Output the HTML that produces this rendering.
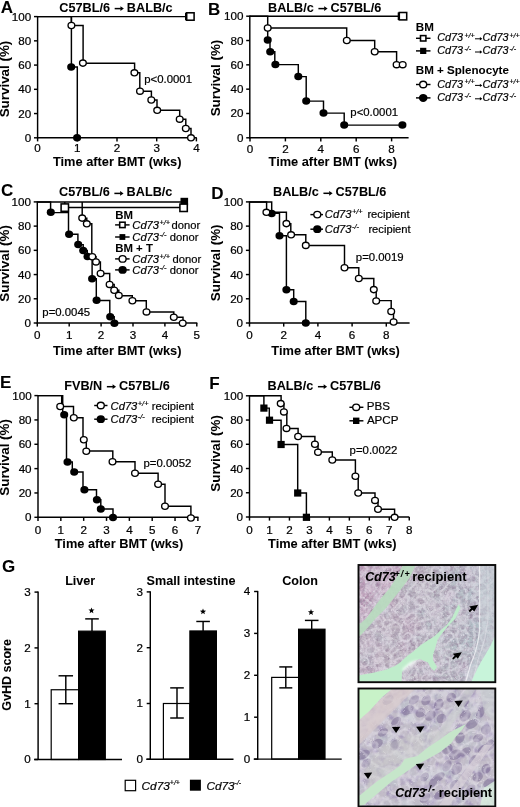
<!DOCTYPE html>
<html><head><meta charset="utf-8"><style>
html,body{margin:0;padding:0;background:#fff;}
svg{display:block;filter:blur(0.3px);}
text{font-family:"Liberation Sans", sans-serif;fill:#000;stroke:#000;stroke-width:0.2px;}
text[font-weight="bold"]{stroke-width:0.05px;}
</style></head><body>
<svg width="520" height="807" viewBox="0 0 520 807">
<rect width="520" height="807" fill="#fff"/>
<text x="0.7" y="12.8" font-size="17" font-weight="bold" font-style="normal" text-anchor="start" >A</text>
<text transform="translate(59.3,11.6) scale(1.04,1)" x="0" y="0" font-size="12.2" font-weight="bold" font-style="normal" text-anchor="start" >C57BL/6</text>
<line x1="114.67" y1="8.6" x2="120.91" y2="8.6" stroke="#000" stroke-width="1.5"/>
<path d="M120.41,6.2 L123.87,8.6 L120.41,11 z" fill="#000"/>
<text transform="translate(126.87,11.6) scale(1.04,1)" x="0" y="0" font-size="12.2" font-weight="bold" font-style="normal" text-anchor="start" >BALB/c</text>
<line x1="37.6" y1="16" x2="37.6" y2="138.4" stroke="#000" stroke-width="1.45"/>
<line x1="34" y1="137.8" x2="37.6" y2="137.8" stroke="#000" stroke-width="1.45"/>
<text transform="translate(31.2,141.8) scale(1.12,1)" x="0" y="0" font-size="10.4" font-weight="normal" font-style="normal" text-anchor="end" >0</text>
<line x1="34" y1="113.56" x2="37.6" y2="113.56" stroke="#000" stroke-width="1.45"/>
<text transform="translate(31.2,117.56) scale(1.12,1)" x="0" y="0" font-size="10.4" font-weight="normal" font-style="normal" text-anchor="end" >20</text>
<line x1="34" y1="89.32" x2="37.6" y2="89.32" stroke="#000" stroke-width="1.45"/>
<text transform="translate(31.2,93.32) scale(1.12,1)" x="0" y="0" font-size="10.4" font-weight="normal" font-style="normal" text-anchor="end" >40</text>
<line x1="34" y1="65.08" x2="37.6" y2="65.08" stroke="#000" stroke-width="1.45"/>
<text transform="translate(31.2,69.08) scale(1.12,1)" x="0" y="0" font-size="10.4" font-weight="normal" font-style="normal" text-anchor="end" >60</text>
<line x1="34" y1="40.84" x2="37.6" y2="40.84" stroke="#000" stroke-width="1.45"/>
<text transform="translate(31.2,44.84) scale(1.12,1)" x="0" y="0" font-size="10.4" font-weight="normal" font-style="normal" text-anchor="end" >80</text>
<line x1="34" y1="16.6" x2="37.6" y2="16.6" stroke="#000" stroke-width="1.45"/>
<text transform="translate(31.2,20.6) scale(1.12,1)" x="0" y="0" font-size="10.4" font-weight="normal" font-style="normal" text-anchor="end" >100</text>
<line x1="37" y1="137.8" x2="196.8" y2="137.8" stroke="#000" stroke-width="1.45"/>
<line x1="37.6" y1="137.8" x2="37.6" y2="141.4" stroke="#000" stroke-width="1.45"/>
<line x1="77.3" y1="137.8" x2="77.3" y2="141.4" stroke="#000" stroke-width="1.45"/>
<line x1="117" y1="137.8" x2="117" y2="141.4" stroke="#000" stroke-width="1.45"/>
<line x1="156.7" y1="137.8" x2="156.7" y2="141.4" stroke="#000" stroke-width="1.45"/>
<line x1="196.4" y1="137.8" x2="196.4" y2="141.4" stroke="#000" stroke-width="1.45"/>
<text transform="translate(37.6,151.7) scale(1.12,1)" x="0" y="0" font-size="10.4" font-weight="normal" font-style="normal" text-anchor="middle" >0</text>
<text transform="translate(77.3,151.7) scale(1.12,1)" x="0" y="0" font-size="10.4" font-weight="normal" font-style="normal" text-anchor="middle" >1</text>
<text transform="translate(117,151.7) scale(1.12,1)" x="0" y="0" font-size="10.4" font-weight="normal" font-style="normal" text-anchor="middle" >2</text>
<text transform="translate(156.7,151.7) scale(1.12,1)" x="0" y="0" font-size="10.4" font-weight="normal" font-style="normal" text-anchor="middle" >3</text>
<text transform="translate(196.4,151.7) scale(1.12,1)" x="0" y="0" font-size="10.4" font-weight="normal" font-style="normal" text-anchor="middle" >4</text>
<text x="0" y="0" font-size="13.4" font-weight="bold" text-anchor="middle" transform="translate(8.8,79) rotate(-90)">Survival (%)</text>
<text x="117.2" y="165.7" font-size="12.8" font-weight="bold" font-style="normal" text-anchor="middle" >Time after BMT (wks)</text>
<polyline points="37.6,16.6 190,16.6" fill="none" stroke="#000" stroke-width="1.45" stroke-linejoin="miter"/>
<polyline points="37.6,16.6 71.4,16.6 71.4,67 77.3,67 77.3,137.8" fill="none" stroke="#000" stroke-width="1.45" stroke-linejoin="miter"/>
<polyline points="71.4,16.6 71.4,25.5 83.1,25.5 83.1,63.3 134.6,63.3 134.6,72.8 139.8,72.8 139.8,91.2 151.4,91.2 151.4,100 157,100 157,110.3 179.7,110.3 179.7,119.2 185.8,119.2 185.8,128.5 191,128.5 191,137.8" fill="none" stroke="#000" stroke-width="1.45" stroke-linejoin="miter"/>
<ellipse cx="71.2" cy="67" rx="4.03" ry="3.77" fill="#000"/>
<ellipse cx="77.1" cy="137.7" rx="4.03" ry="3.77" fill="#000"/>
<ellipse cx="71.4" cy="25.5" rx="3.35" ry="3.1" fill="#fff" stroke="#000" stroke-width="1.35"/>
<ellipse cx="82.9" cy="63.1" rx="3.35" ry="3.1" fill="#fff" stroke="#000" stroke-width="1.35"/>
<ellipse cx="134.4" cy="72.8" rx="3.35" ry="3.1" fill="#fff" stroke="#000" stroke-width="1.35"/>
<ellipse cx="140" cy="91.2" rx="3.35" ry="3.1" fill="#fff" stroke="#000" stroke-width="1.35"/>
<ellipse cx="151.3" cy="100" rx="3.35" ry="3.1" fill="#fff" stroke="#000" stroke-width="1.35"/>
<ellipse cx="157.2" cy="110.3" rx="3.35" ry="3.1" fill="#fff" stroke="#000" stroke-width="1.35"/>
<ellipse cx="179.7" cy="119.2" rx="3.35" ry="3.1" fill="#fff" stroke="#000" stroke-width="1.35"/>
<ellipse cx="185.8" cy="128.5" rx="3.35" ry="3.1" fill="#fff" stroke="#000" stroke-width="1.35"/>
<ellipse cx="191" cy="137.8" rx="3.35" ry="3.1" fill="#fff" stroke="#000" stroke-width="1.35"/>
<rect x="185" y="12.7" width="7.6" height="7.6" fill="#000"/>
<rect x="186.7" y="12.8" width="7.4" height="7.4" fill="#fff" stroke="#000" stroke-width="1.55"/>
<text transform="translate(144.2,83.2) scale(1.075,1)" x="0" y="0" font-size="10.6" font-weight="normal" font-style="normal" text-anchor="start" >p&lt;0.0001</text>
<text x="208" y="15" font-size="17" font-weight="bold" font-style="normal" text-anchor="start" >B</text>
<text transform="translate(268,11.6) scale(1.04,1)" x="0" y="0" font-size="12.2" font-weight="bold" font-style="normal" text-anchor="start" >BALB/c</text>
<line x1="318.42" y1="8.6" x2="324.66" y2="8.6" stroke="#000" stroke-width="1.5"/>
<path d="M324.16,6.2 L327.62,8.6 L324.16,11 z" fill="#000"/>
<text transform="translate(330.62,11.6) scale(1.04,1)" x="0" y="0" font-size="12.2" font-weight="bold" font-style="normal" text-anchor="start" >C57BL/6</text>
<line x1="249.8" y1="15.6" x2="249.8" y2="138.4" stroke="#000" stroke-width="1.45"/>
<line x1="246.2" y1="137.8" x2="249.8" y2="137.8" stroke="#000" stroke-width="1.45"/>
<text transform="translate(243.4,141.8) scale(1.12,1)" x="0" y="0" font-size="10.4" font-weight="normal" font-style="normal" text-anchor="end" >0</text>
<line x1="246.2" y1="113.48" x2="249.8" y2="113.48" stroke="#000" stroke-width="1.45"/>
<text transform="translate(243.4,117.48) scale(1.12,1)" x="0" y="0" font-size="10.4" font-weight="normal" font-style="normal" text-anchor="end" >20</text>
<line x1="246.2" y1="89.16" x2="249.8" y2="89.16" stroke="#000" stroke-width="1.45"/>
<text transform="translate(243.4,93.16) scale(1.12,1)" x="0" y="0" font-size="10.4" font-weight="normal" font-style="normal" text-anchor="end" >40</text>
<line x1="246.2" y1="64.84" x2="249.8" y2="64.84" stroke="#000" stroke-width="1.45"/>
<text transform="translate(243.4,68.84) scale(1.12,1)" x="0" y="0" font-size="10.4" font-weight="normal" font-style="normal" text-anchor="end" >60</text>
<line x1="246.2" y1="40.52" x2="249.8" y2="40.52" stroke="#000" stroke-width="1.45"/>
<text transform="translate(243.4,44.52) scale(1.12,1)" x="0" y="0" font-size="10.4" font-weight="normal" font-style="normal" text-anchor="end" >80</text>
<line x1="246.2" y1="16.2" x2="249.8" y2="16.2" stroke="#000" stroke-width="1.45"/>
<text transform="translate(243.4,20.2) scale(1.12,1)" x="0" y="0" font-size="10.4" font-weight="normal" font-style="normal" text-anchor="end" >100</text>
<line x1="249.2" y1="137.8" x2="408.6" y2="137.8" stroke="#000" stroke-width="1.45"/>
<line x1="250" y1="137.8" x2="250" y2="141.4" stroke="#000" stroke-width="1.45"/>
<line x1="285.4" y1="137.8" x2="285.4" y2="141.4" stroke="#000" stroke-width="1.45"/>
<line x1="320.8" y1="137.8" x2="320.8" y2="141.4" stroke="#000" stroke-width="1.45"/>
<line x1="356.2" y1="137.8" x2="356.2" y2="141.4" stroke="#000" stroke-width="1.45"/>
<line x1="391.6" y1="137.8" x2="391.6" y2="141.4" stroke="#000" stroke-width="1.45"/>
<text transform="translate(250,152.6) scale(1.12,1)" x="0" y="0" font-size="10.4" font-weight="normal" font-style="normal" text-anchor="middle" >0</text>
<text transform="translate(285.4,152.6) scale(1.12,1)" x="0" y="0" font-size="10.4" font-weight="normal" font-style="normal" text-anchor="middle" >2</text>
<text transform="translate(320.8,152.6) scale(1.12,1)" x="0" y="0" font-size="10.4" font-weight="normal" font-style="normal" text-anchor="middle" >4</text>
<text transform="translate(356.2,152.6) scale(1.12,1)" x="0" y="0" font-size="10.4" font-weight="normal" font-style="normal" text-anchor="middle" >6</text>
<text transform="translate(391.6,152.6) scale(1.12,1)" x="0" y="0" font-size="10.4" font-weight="normal" font-style="normal" text-anchor="middle" >8</text>
<text x="0" y="0" font-size="13.4" font-weight="bold" text-anchor="middle" transform="translate(220.4,78) rotate(-90)">Survival (%)</text>
<text x="332.8" y="165.7" font-size="12.8" font-weight="bold" font-style="normal" text-anchor="middle" >Time after BMT (wks)</text>
<polyline points="249.8,16.2 403,16.2" fill="none" stroke="#000" stroke-width="1.45" stroke-linejoin="miter"/>
<polyline points="249.8,16.2 267.7,16.2 267.7,28 346.7,28 346.7,40.5 374.7,40.5 374.7,51.7 396.6,51.7 396.6,64.7 402.7,64.7" fill="none" stroke="#000" stroke-width="1.45" stroke-linejoin="miter"/>
<polyline points="267.7,28 267.7,40 270,40 270,51.8 274.8,51.8 274.8,64.6 298.3,64.6 298.3,76.6 306.2,76.6 306.2,101.1 323.5,101.1 323.5,113.1 344.2,113.1 344.2,125.1 402.4,125.1" fill="none" stroke="#000" stroke-width="1.45" stroke-linejoin="miter"/>
<ellipse cx="267.7" cy="40" rx="4.03" ry="3.77" fill="#000"/>
<ellipse cx="270.2" cy="51.8" rx="4.03" ry="3.77" fill="#000"/>
<ellipse cx="275.4" cy="64.6" rx="4.03" ry="3.77" fill="#000"/>
<ellipse cx="298.3" cy="76.6" rx="4.03" ry="3.77" fill="#000"/>
<ellipse cx="306.2" cy="101.1" rx="4.03" ry="3.77" fill="#000"/>
<ellipse cx="323.5" cy="113.1" rx="4.03" ry="3.77" fill="#000"/>
<ellipse cx="344.2" cy="125.1" rx="4.03" ry="3.77" fill="#000"/>
<ellipse cx="402.4" cy="125.1" rx="4.03" ry="3.77" fill="#000"/>
<ellipse cx="267.7" cy="28" rx="3.35" ry="3.1" fill="#fff" stroke="#000" stroke-width="1.35"/>
<ellipse cx="346.8" cy="40.5" rx="3.35" ry="3.1" fill="#fff" stroke="#000" stroke-width="1.35"/>
<ellipse cx="374.7" cy="51.7" rx="3.35" ry="3.1" fill="#fff" stroke="#000" stroke-width="1.35"/>
<ellipse cx="396.6" cy="64.7" rx="3.35" ry="3.1" fill="#fff" stroke="#000" stroke-width="1.35"/>
<ellipse cx="402.7" cy="64.7" rx="3.35" ry="3.1" fill="#fff" stroke="#000" stroke-width="1.35"/>
<rect x="397.7" y="12.4" width="7.6" height="7.6" fill="#000"/>
<rect x="399.3" y="12.5" width="7.4" height="7.4" fill="#fff" stroke="#000" stroke-width="1.55"/>
<text transform="translate(350.3,116.2) scale(1.075,1)" x="0" y="0" font-size="10.6" font-weight="normal" font-style="normal" text-anchor="start" >p&lt;0.0001</text>
<text x="415.8" y="30.9" font-size="11.6" font-weight="bold" font-style="normal" text-anchor="start" >BM</text>
<line x1="416" y1="38.3" x2="430.5" y2="38.3" stroke="#000" stroke-width="1.45"/>
<rect x="420.5" y="35.6" width="5.4" height="5.4" fill="#fff" stroke="#000" stroke-width="1.55"/>
<line x1="416" y1="50.9" x2="430.5" y2="50.9" stroke="#000" stroke-width="1.45"/>
<rect x="420.1" y="47.8" width="6.2" height="6.2" fill="#000"/>
<text x="415.8" y="73.6" font-size="11.6" font-weight="bold" font-style="normal" text-anchor="start" >BM + Splenocyte</text>
<line x1="416" y1="84.5" x2="430.5" y2="84.5" stroke="#000" stroke-width="1.45"/>
<ellipse cx="423.2" cy="84.5" rx="3.5" ry="3.24" fill="#fff" stroke="#000" stroke-width="1.35"/>
<line x1="416" y1="97.9" x2="430.5" y2="97.9" stroke="#000" stroke-width="1.45"/>
<ellipse cx="423.2" cy="97.9" rx="4.28" ry="4.01" fill="#000"/>
<text x="437.3" y="41.2" font-size="10.8" font-style="italic">Cd73</text>
<text x="464.4" y="37.6" font-size="7.2" font-style="italic">+/+</text>
<line x1="475" y1="38.8" x2="480.35" y2="38.8" stroke="#000" stroke-width="1.0"/>
<path d="M479.85,37.1 L482.3,38.8 L479.85,40.5 z" fill="#000"/>
<text x="482.6" y="41.2" font-size="10.8" font-style="italic">Cd73</text>
<text x="509.4" y="37.6" font-size="7.2" font-style="italic">+/+</text>
<text x="437.3" y="54.4" font-size="10.8" font-style="italic">Cd73</text>
<text x="464.4" y="50.8" font-size="7.2" font-style="italic">-/-</text>
<line x1="475" y1="52" x2="480.35" y2="52" stroke="#000" stroke-width="1.0"/>
<path d="M479.85,50.3 L482.3,52 L479.85,53.7 z" fill="#000"/>
<text x="482.6" y="54.4" font-size="10.8" font-style="italic">Cd73</text>
<text x="509.4" y="50.8" font-size="7.2" font-style="italic">-/-</text>
<text x="437.3" y="87.8" font-size="10.8" font-style="italic">Cd73</text>
<text x="464.4" y="84.2" font-size="7.2" font-style="italic">+/+</text>
<line x1="475" y1="85.4" x2="480.35" y2="85.4" stroke="#000" stroke-width="1.0"/>
<path d="M479.85,83.7 L482.3,85.4 L479.85,87.1 z" fill="#000"/>
<text x="482.6" y="87.8" font-size="10.8" font-style="italic">Cd73</text>
<text x="509.4" y="84.2" font-size="7.2" font-style="italic">+/+</text>
<text x="437.3" y="101.2" font-size="10.8" font-style="italic">Cd73</text>
<text x="464.4" y="97.6" font-size="7.2" font-style="italic">-/-</text>
<line x1="475" y1="98.8" x2="480.35" y2="98.8" stroke="#000" stroke-width="1.0"/>
<path d="M479.85,97.1 L482.3,98.8 L479.85,100.5 z" fill="#000"/>
<text x="482.6" y="101.2" font-size="10.8" font-style="italic">Cd73</text>
<text x="509.4" y="97.6" font-size="7.2" font-style="italic">-/-</text>
<text x="0.9" y="196" font-size="17" font-weight="bold" font-style="normal" text-anchor="start" >C</text>
<text transform="translate(59,196.4) scale(1.04,1)" x="0" y="0" font-size="12.2" font-weight="bold" font-style="normal" text-anchor="start" >C57BL/6</text>
<line x1="114.37" y1="193.4" x2="120.61" y2="193.4" stroke="#000" stroke-width="1.5"/>
<path d="M120.11,191 L123.57,193.4 L120.11,195.8 z" fill="#000"/>
<text transform="translate(126.57,196.4) scale(1.04,1)" x="0" y="0" font-size="12.2" font-weight="bold" font-style="normal" text-anchor="start" >BALB/c</text>
<line x1="37.3" y1="201.3" x2="37.3" y2="323.6" stroke="#000" stroke-width="1.45"/>
<line x1="33.7" y1="323" x2="37.3" y2="323" stroke="#000" stroke-width="1.45"/>
<text transform="translate(30.9,327) scale(1.12,1)" x="0" y="0" font-size="10.4" font-weight="normal" font-style="normal" text-anchor="end" >0</text>
<line x1="33.7" y1="298.78" x2="37.3" y2="298.78" stroke="#000" stroke-width="1.45"/>
<text transform="translate(30.9,302.78) scale(1.12,1)" x="0" y="0" font-size="10.4" font-weight="normal" font-style="normal" text-anchor="end" >20</text>
<line x1="33.7" y1="274.56" x2="37.3" y2="274.56" stroke="#000" stroke-width="1.45"/>
<text transform="translate(30.9,278.56) scale(1.12,1)" x="0" y="0" font-size="10.4" font-weight="normal" font-style="normal" text-anchor="end" >40</text>
<line x1="33.7" y1="250.34" x2="37.3" y2="250.34" stroke="#000" stroke-width="1.45"/>
<text transform="translate(30.9,254.34) scale(1.12,1)" x="0" y="0" font-size="10.4" font-weight="normal" font-style="normal" text-anchor="end" >60</text>
<line x1="33.7" y1="226.12" x2="37.3" y2="226.12" stroke="#000" stroke-width="1.45"/>
<text transform="translate(30.9,230.12) scale(1.12,1)" x="0" y="0" font-size="10.4" font-weight="normal" font-style="normal" text-anchor="end" >80</text>
<line x1="33.7" y1="201.9" x2="37.3" y2="201.9" stroke="#000" stroke-width="1.45"/>
<text transform="translate(30.9,205.9) scale(1.12,1)" x="0" y="0" font-size="10.4" font-weight="normal" font-style="normal" text-anchor="end" >100</text>
<line x1="36.7" y1="323" x2="197.3" y2="323" stroke="#000" stroke-width="1.45"/>
<line x1="37.3" y1="323" x2="37.3" y2="326.6" stroke="#000" stroke-width="1.45"/>
<line x1="69.2" y1="323" x2="69.2" y2="326.6" stroke="#000" stroke-width="1.45"/>
<line x1="101.1" y1="323" x2="101.1" y2="326.6" stroke="#000" stroke-width="1.45"/>
<line x1="133" y1="323" x2="133" y2="326.6" stroke="#000" stroke-width="1.45"/>
<line x1="164.9" y1="323" x2="164.9" y2="326.6" stroke="#000" stroke-width="1.45"/>
<line x1="196.8" y1="323" x2="196.8" y2="326.6" stroke="#000" stroke-width="1.45"/>
<text transform="translate(37.3,339.1) scale(1.12,1)" x="0" y="0" font-size="10.4" font-weight="normal" font-style="normal" text-anchor="middle" >0</text>
<text transform="translate(69.2,339.1) scale(1.12,1)" x="0" y="0" font-size="10.4" font-weight="normal" font-style="normal" text-anchor="middle" >1</text>
<text transform="translate(101.1,339.1) scale(1.12,1)" x="0" y="0" font-size="10.4" font-weight="normal" font-style="normal" text-anchor="middle" >2</text>
<text transform="translate(133,339.1) scale(1.12,1)" x="0" y="0" font-size="10.4" font-weight="normal" font-style="normal" text-anchor="middle" >3</text>
<text transform="translate(164.9,339.1) scale(1.12,1)" x="0" y="0" font-size="10.4" font-weight="normal" font-style="normal" text-anchor="middle" >4</text>
<text transform="translate(196.8,339.1) scale(1.12,1)" x="0" y="0" font-size="10.4" font-weight="normal" font-style="normal" text-anchor="middle" >5</text>
<text x="0" y="0" font-size="13.4" font-weight="bold" text-anchor="middle" transform="translate(8.8,263.4) rotate(-90)">Survival (%)</text>
<text x="117.2" y="355.2" font-size="12.8" font-weight="bold" font-style="normal" text-anchor="middle" >Time after BMT (wks)</text>
<polyline points="37.3,201.9 186,201.9" fill="none" stroke="#000" stroke-width="1.45" stroke-linejoin="miter"/>
<polyline points="64.8,201.9 64.8,207.4 183.6,207.4" fill="none" stroke="#000" stroke-width="1.45" stroke-linejoin="miter"/>
<polyline points="37.3,201.9 50.6,201.9 50.6,212.6 68.5,212.6 68.5,234.2 77.9,234.2 77.9,244.6 83.2,244.6 83.2,250.4 87.3,250.4 87.3,256.2 92.1,256.2 92.1,278.7 96.3,278.7 96.3,300.4 109.8,300.4 109.8,316.7 114.2,316.7 114.2,323" fill="none" stroke="#000" stroke-width="1.45" stroke-linejoin="miter"/>
<polyline points="82.2,201.9 82.2,218.1 86.8,218.1 86.8,223.8 91.8,223.8 91.8,256.7 96,256.7 96,261.9 100.4,261.9 100.4,273.5 109.7,273.5 109.7,284.4 114.2,284.4 114.2,290.2 118.8,290.2 118.8,295.7 132.3,295.7 132.3,300.8 146.3,300.8 146.3,312 173.8,312 173.8,317.3 183,317.3 183,323" fill="none" stroke="#000" stroke-width="1.45" stroke-linejoin="miter"/>
<ellipse cx="50.8" cy="212.3" rx="4.03" ry="3.77" fill="#000"/>
<ellipse cx="69.1" cy="234.2" rx="4.03" ry="3.77" fill="#000"/>
<ellipse cx="78.2" cy="244.6" rx="4.03" ry="3.77" fill="#000"/>
<ellipse cx="83.2" cy="250.6" rx="4.03" ry="3.77" fill="#000"/>
<ellipse cx="87.5" cy="256.4" rx="4.03" ry="3.77" fill="#000"/>
<ellipse cx="92.1" cy="278.7" rx="4.03" ry="3.77" fill="#000"/>
<ellipse cx="96.6" cy="300.2" rx="4.03" ry="3.77" fill="#000"/>
<ellipse cx="110.2" cy="316.7" rx="4.03" ry="3.77" fill="#000"/>
<ellipse cx="114.4" cy="323.3" rx="4.03" ry="3.77" fill="#000"/>
<ellipse cx="82.2" cy="218.1" rx="3.35" ry="3.1" fill="#fff" stroke="#000" stroke-width="1.35"/>
<ellipse cx="86.8" cy="223.8" rx="3.35" ry="3.1" fill="#fff" stroke="#000" stroke-width="1.35"/>
<ellipse cx="92.3" cy="256.7" rx="3.35" ry="3.1" fill="#fff" stroke="#000" stroke-width="1.35"/>
<ellipse cx="96" cy="261.9" rx="3.35" ry="3.1" fill="#fff" stroke="#000" stroke-width="1.35"/>
<ellipse cx="100.6" cy="273.5" rx="3.35" ry="3.1" fill="#fff" stroke="#000" stroke-width="1.35"/>
<ellipse cx="109.6" cy="284.4" rx="3.35" ry="3.1" fill="#fff" stroke="#000" stroke-width="1.35"/>
<ellipse cx="114.2" cy="290.2" rx="3.35" ry="3.1" fill="#fff" stroke="#000" stroke-width="1.35"/>
<ellipse cx="118.8" cy="295.4" rx="3.35" ry="3.1" fill="#fff" stroke="#000" stroke-width="1.35"/>
<ellipse cx="132.4" cy="300.8" rx="3.35" ry="3.1" fill="#fff" stroke="#000" stroke-width="1.35"/>
<ellipse cx="146.5" cy="311.9" rx="3.35" ry="3.1" fill="#fff" stroke="#000" stroke-width="1.35"/>
<ellipse cx="173.8" cy="317.3" rx="3.35" ry="3.1" fill="#fff" stroke="#000" stroke-width="1.35"/>
<ellipse cx="182.7" cy="323.2" rx="3.35" ry="3.1" fill="#fff" stroke="#000" stroke-width="1.35"/>
<rect x="61.1" y="203.9" width="7.4" height="7.4" fill="#fff" stroke="#000" stroke-width="1.55"/>
<rect x="180.5" y="197.8" width="7.6" height="7.6" fill="#000"/>
<rect x="179.9" y="204.1" width="7.4" height="7.4" fill="#fff" stroke="#000" stroke-width="1.55"/>
<text transform="translate(42.3,316) scale(1.075,1)" x="0" y="0" font-size="10.6" font-weight="normal" font-style="normal" text-anchor="start" >p=0.0045</text>
<text x="115.2" y="218.9" font-size="11.4" font-weight="bold" font-style="normal" text-anchor="start" >BM</text>
<line x1="115.1" y1="224.9" x2="129.6" y2="224.9" stroke="#000" stroke-width="1.45"/>
<rect x="119.7" y="222.2" width="5.4" height="5.4" fill="#fff" stroke="#000" stroke-width="1.55"/>
<text x="132.3" y="228.9" font-size="11.2" font-weight="normal" font-style="italic" text-anchor="start" >Cd73</text>
<text x="159.48" y="225" font-size="7.4" font-weight="normal" font-style="italic" text-anchor="start" >+/+</text>
<text x="171.6" y="228.9" font-size="11.2" font-weight="normal" font-style="normal" text-anchor="start" >donor</text>
<line x1="115.1" y1="237" x2="129.6" y2="237" stroke="#000" stroke-width="1.45"/>
<rect x="119.5" y="234.1" width="5.8" height="5.8" fill="#000"/>
<text x="132.3" y="240.8" font-size="11.2" font-weight="normal" font-style="italic" text-anchor="start" >Cd73</text>
<text x="159.48" y="236.9" font-size="7.4" font-weight="normal" font-style="italic" text-anchor="start" >-/-</text>
<text x="169.8" y="240.8" font-size="11.2" font-weight="normal" font-style="normal" text-anchor="start" >donor</text>
<text x="115.2" y="252" font-size="11.4" font-weight="bold" font-style="normal" text-anchor="start" >BM + T</text>
<line x1="115.1" y1="258.9" x2="129.6" y2="258.9" stroke="#000" stroke-width="1.45"/>
<ellipse cx="122.6" cy="258.9" rx="3.5" ry="3.24" fill="#fff" stroke="#000" stroke-width="1.35"/>
<text x="132.3" y="262.7" font-size="11.2" font-weight="normal" font-style="italic" text-anchor="start" >Cd73</text>
<text x="159.48" y="258.8" font-size="7.4" font-weight="normal" font-style="italic" text-anchor="start" >+/+</text>
<text x="172.6" y="262.7" font-size="11.2" font-weight="normal" font-style="normal" text-anchor="start" >donor</text>
<line x1="115.1" y1="269.9" x2="129.6" y2="269.9" stroke="#000" stroke-width="1.45"/>
<ellipse cx="122.6" cy="269.9" rx="4.17" ry="3.91" fill="#000"/>
<text x="132.3" y="273.8" font-size="11.2" font-weight="normal" font-style="italic" text-anchor="start" >Cd73</text>
<text x="159.48" y="269.9" font-size="7.4" font-weight="normal" font-style="italic" text-anchor="start" >-/-</text>
<text x="169.8" y="273.8" font-size="11.2" font-weight="normal" font-style="normal" text-anchor="start" >donor</text>
<text x="211.3" y="198.6" font-size="17" font-weight="bold" font-style="normal" text-anchor="start" >D</text>
<text transform="translate(273,196.3) scale(1.04,1)" x="0" y="0" font-size="12.2" font-weight="bold" font-style="normal" text-anchor="start" >BALB/c</text>
<line x1="323.42" y1="193.3" x2="329.66" y2="193.3" stroke="#000" stroke-width="1.5"/>
<path d="M329.16,190.9 L332.62,193.3 L329.16,195.7 z" fill="#000"/>
<text transform="translate(335.62,196.3) scale(1.04,1)" x="0" y="0" font-size="12.2" font-weight="bold" font-style="normal" text-anchor="start" >C57BL/6</text>
<line x1="249.5" y1="201.3" x2="249.5" y2="323.6" stroke="#000" stroke-width="1.45"/>
<line x1="245.9" y1="323" x2="249.5" y2="323" stroke="#000" stroke-width="1.45"/>
<text transform="translate(243.1,327) scale(1.12,1)" x="0" y="0" font-size="10.4" font-weight="normal" font-style="normal" text-anchor="end" >0</text>
<line x1="245.9" y1="298.78" x2="249.5" y2="298.78" stroke="#000" stroke-width="1.45"/>
<text transform="translate(243.1,302.78) scale(1.12,1)" x="0" y="0" font-size="10.4" font-weight="normal" font-style="normal" text-anchor="end" >20</text>
<line x1="245.9" y1="274.56" x2="249.5" y2="274.56" stroke="#000" stroke-width="1.45"/>
<text transform="translate(243.1,278.56) scale(1.12,1)" x="0" y="0" font-size="10.4" font-weight="normal" font-style="normal" text-anchor="end" >40</text>
<line x1="245.9" y1="250.34" x2="249.5" y2="250.34" stroke="#000" stroke-width="1.45"/>
<text transform="translate(243.1,254.34) scale(1.12,1)" x="0" y="0" font-size="10.4" font-weight="normal" font-style="normal" text-anchor="end" >60</text>
<line x1="245.9" y1="226.12" x2="249.5" y2="226.12" stroke="#000" stroke-width="1.45"/>
<text transform="translate(243.1,230.12) scale(1.12,1)" x="0" y="0" font-size="10.4" font-weight="normal" font-style="normal" text-anchor="end" >80</text>
<line x1="245.9" y1="201.9" x2="249.5" y2="201.9" stroke="#000" stroke-width="1.45"/>
<text transform="translate(243.1,205.9) scale(1.12,1)" x="0" y="0" font-size="10.4" font-weight="normal" font-style="normal" text-anchor="end" >100</text>
<line x1="248.9" y1="323" x2="409.6" y2="323" stroke="#000" stroke-width="1.45"/>
<line x1="249.5" y1="323" x2="249.5" y2="326.6" stroke="#000" stroke-width="1.45"/>
<line x1="283.7" y1="323" x2="283.7" y2="326.6" stroke="#000" stroke-width="1.45"/>
<line x1="317.9" y1="323" x2="317.9" y2="326.6" stroke="#000" stroke-width="1.45"/>
<line x1="352.1" y1="323" x2="352.1" y2="326.6" stroke="#000" stroke-width="1.45"/>
<line x1="386.3" y1="323" x2="386.3" y2="326.6" stroke="#000" stroke-width="1.45"/>
<text transform="translate(249.5,339.1) scale(1.12,1)" x="0" y="0" font-size="10.4" font-weight="normal" font-style="normal" text-anchor="middle" >0</text>
<text transform="translate(283.7,339.1) scale(1.12,1)" x="0" y="0" font-size="10.4" font-weight="normal" font-style="normal" text-anchor="middle" >2</text>
<text transform="translate(317.9,339.1) scale(1.12,1)" x="0" y="0" font-size="10.4" font-weight="normal" font-style="normal" text-anchor="middle" >4</text>
<text transform="translate(352.1,339.1) scale(1.12,1)" x="0" y="0" font-size="10.4" font-weight="normal" font-style="normal" text-anchor="middle" >6</text>
<text transform="translate(386.3,339.1) scale(1.12,1)" x="0" y="0" font-size="10.4" font-weight="normal" font-style="normal" text-anchor="middle" >8</text>
<text x="0" y="0" font-size="13.4" font-weight="bold" text-anchor="middle" transform="translate(220.4,262.8) rotate(-90)">Survival (%)</text>
<text x="335.6" y="355.2" font-size="12.8" font-weight="bold" font-style="normal" text-anchor="middle" >Time after BMT (wks)</text>
<polyline points="249.5,201.9 266.6,201.9 266.6,212.3 286.4,212.3 286.4,223.6 290.8,223.6 290.8,234.8 305.8,234.8 305.8,245.5 344.5,245.5 344.5,267.7 358.8,267.7 358.8,278.5 373.8,278.5 373.8,289.6 376.2,289.6 376.2,300.6 391.2,300.6 391.2,311.5 393.5,311.5 393.5,323" fill="none" stroke="#000" stroke-width="1.45" stroke-linejoin="miter"/>
<polyline points="249.5,201.9 271.7,201.9 271.7,213.2 279.5,213.2 279.5,235.7 286.4,235.7 286.4,289.8 293.7,289.8 293.7,301.4 305.8,301.4 305.8,323" fill="none" stroke="#000" stroke-width="1.45" stroke-linejoin="miter"/>
<ellipse cx="271.7" cy="213.6" rx="4.03" ry="3.77" fill="#000"/>
<ellipse cx="279.5" cy="235.7" rx="4.03" ry="3.77" fill="#000"/>
<ellipse cx="286.4" cy="289.8" rx="4.03" ry="3.77" fill="#000"/>
<ellipse cx="293.7" cy="301.4" rx="4.03" ry="3.77" fill="#000"/>
<ellipse cx="305.8" cy="323" rx="4.03" ry="3.77" fill="#000"/>
<ellipse cx="266.4" cy="212.3" rx="3.35" ry="3.1" fill="#fff" stroke="#000" stroke-width="1.35"/>
<ellipse cx="286.4" cy="223.6" rx="3.35" ry="3.1" fill="#fff" stroke="#000" stroke-width="1.35"/>
<ellipse cx="291.1" cy="234.8" rx="3.35" ry="3.1" fill="#fff" stroke="#000" stroke-width="1.35"/>
<ellipse cx="305.8" cy="245.4" rx="3.35" ry="3.1" fill="#fff" stroke="#000" stroke-width="1.35"/>
<ellipse cx="344.5" cy="267.7" rx="3.35" ry="3.1" fill="#fff" stroke="#000" stroke-width="1.35"/>
<ellipse cx="358.8" cy="278.5" rx="3.35" ry="3.1" fill="#fff" stroke="#000" stroke-width="1.35"/>
<ellipse cx="373.8" cy="289.6" rx="3.35" ry="3.1" fill="#fff" stroke="#000" stroke-width="1.35"/>
<ellipse cx="376.2" cy="301" rx="3.35" ry="3.1" fill="#fff" stroke="#000" stroke-width="1.35"/>
<ellipse cx="391.2" cy="311.5" rx="3.35" ry="3.1" fill="#fff" stroke="#000" stroke-width="1.35"/>
<ellipse cx="393.6" cy="322" rx="3.35" ry="3.1" fill="#fff" stroke="#000" stroke-width="1.35"/>
<text transform="translate(355.8,261.2) scale(1.075,1)" x="0" y="0" font-size="10.6" font-weight="normal" font-style="normal" text-anchor="start" >p=0.0019</text>
<line x1="310.4" y1="214.6" x2="323" y2="214.6" stroke="#000" stroke-width="1.45"/>
<ellipse cx="317.3" cy="214.6" rx="3.5" ry="3.24" fill="#fff" stroke="#000" stroke-width="1.35"/>
<text x="324.8" y="218.3" font-size="11.2" font-weight="normal" font-style="italic" text-anchor="start" >Cd73</text>
<text x="351.97" y="214.4" font-size="7.4" font-weight="normal" font-style="italic" text-anchor="start" >+/+</text>
<text x="367.4" y="218.3" font-size="11.2" font-weight="normal" font-style="normal" text-anchor="start" >recipient</text>
<line x1="310.4" y1="229.2" x2="323" y2="229.2" stroke="#000" stroke-width="1.45"/>
<ellipse cx="317.3" cy="229.2" rx="4.17" ry="3.91" fill="#000"/>
<text x="324.8" y="232.9" font-size="11.2" font-weight="normal" font-style="italic" text-anchor="start" >Cd73</text>
<text x="351.97" y="229" font-size="7.4" font-weight="normal" font-style="italic" text-anchor="start" >-/-</text>
<text x="368.4" y="232.9" font-size="11.2" font-weight="normal" font-style="normal" text-anchor="start" >recipient</text>
<text x="0.1" y="388" font-size="17" font-weight="bold" font-style="normal" text-anchor="start" >E</text>
<text transform="translate(64.2,389.7) scale(1.04,1)" x="0" y="0" font-size="12.2" font-weight="bold" font-style="normal" text-anchor="start" >FVB/N</text>
<line x1="106.86" y1="386.7" x2="113.11" y2="386.7" stroke="#000" stroke-width="1.5"/>
<path d="M112.61,384.3 L116.06,386.7 L112.61,389.1 z" fill="#000"/>
<text transform="translate(119.06,389.7) scale(1.04,1)" x="0" y="0" font-size="12.2" font-weight="bold" font-style="normal" text-anchor="start" >C57BL/6</text>
<line x1="38" y1="395" x2="38" y2="517.9" stroke="#000" stroke-width="1.45"/>
<line x1="34.4" y1="517.3" x2="38" y2="517.3" stroke="#000" stroke-width="1.45"/>
<text transform="translate(31.6,521.3) scale(1.12,1)" x="0" y="0" font-size="10.4" font-weight="normal" font-style="normal" text-anchor="end" >0</text>
<line x1="34.4" y1="492.96" x2="38" y2="492.96" stroke="#000" stroke-width="1.45"/>
<text transform="translate(31.6,496.96) scale(1.12,1)" x="0" y="0" font-size="10.4" font-weight="normal" font-style="normal" text-anchor="end" >20</text>
<line x1="34.4" y1="468.62" x2="38" y2="468.62" stroke="#000" stroke-width="1.45"/>
<text transform="translate(31.6,472.62) scale(1.12,1)" x="0" y="0" font-size="10.4" font-weight="normal" font-style="normal" text-anchor="end" >40</text>
<line x1="34.4" y1="444.28" x2="38" y2="444.28" stroke="#000" stroke-width="1.45"/>
<text transform="translate(31.6,448.28) scale(1.12,1)" x="0" y="0" font-size="10.4" font-weight="normal" font-style="normal" text-anchor="end" >60</text>
<line x1="34.4" y1="419.94" x2="38" y2="419.94" stroke="#000" stroke-width="1.45"/>
<text transform="translate(31.6,423.94) scale(1.12,1)" x="0" y="0" font-size="10.4" font-weight="normal" font-style="normal" text-anchor="end" >80</text>
<line x1="34.4" y1="395.6" x2="38" y2="395.6" stroke="#000" stroke-width="1.45"/>
<text transform="translate(31.6,399.6) scale(1.12,1)" x="0" y="0" font-size="10.4" font-weight="normal" font-style="normal" text-anchor="end" >100</text>
<line x1="37.4" y1="517.3" x2="198.5" y2="517.3" stroke="#000" stroke-width="1.45"/>
<line x1="38" y1="517.3" x2="38" y2="520.9" stroke="#000" stroke-width="1.45"/>
<line x1="60.84" y1="517.3" x2="60.84" y2="520.9" stroke="#000" stroke-width="1.45"/>
<line x1="83.68" y1="517.3" x2="83.68" y2="520.9" stroke="#000" stroke-width="1.45"/>
<line x1="106.52" y1="517.3" x2="106.52" y2="520.9" stroke="#000" stroke-width="1.45"/>
<line x1="129.36" y1="517.3" x2="129.36" y2="520.9" stroke="#000" stroke-width="1.45"/>
<line x1="152.2" y1="517.3" x2="152.2" y2="520.9" stroke="#000" stroke-width="1.45"/>
<line x1="175.04" y1="517.3" x2="175.04" y2="520.9" stroke="#000" stroke-width="1.45"/>
<line x1="197.88" y1="517.3" x2="197.88" y2="520.9" stroke="#000" stroke-width="1.45"/>
<text transform="translate(38,533.6) scale(1.12,1)" x="0" y="0" font-size="10.4" font-weight="normal" font-style="normal" text-anchor="middle" >0</text>
<text transform="translate(60.84,533.6) scale(1.12,1)" x="0" y="0" font-size="10.4" font-weight="normal" font-style="normal" text-anchor="middle" >1</text>
<text transform="translate(83.68,533.6) scale(1.12,1)" x="0" y="0" font-size="10.4" font-weight="normal" font-style="normal" text-anchor="middle" >2</text>
<text transform="translate(106.52,533.6) scale(1.12,1)" x="0" y="0" font-size="10.4" font-weight="normal" font-style="normal" text-anchor="middle" >3</text>
<text transform="translate(129.36,533.6) scale(1.12,1)" x="0" y="0" font-size="10.4" font-weight="normal" font-style="normal" text-anchor="middle" >4</text>
<text transform="translate(152.2,533.6) scale(1.12,1)" x="0" y="0" font-size="10.4" font-weight="normal" font-style="normal" text-anchor="middle" >5</text>
<text transform="translate(175.04,533.6) scale(1.12,1)" x="0" y="0" font-size="10.4" font-weight="normal" font-style="normal" text-anchor="middle" >6</text>
<text transform="translate(197.88,533.6) scale(1.12,1)" x="0" y="0" font-size="10.4" font-weight="normal" font-style="normal" text-anchor="middle" >7</text>
<text x="0" y="0" font-size="13.4" font-weight="bold" text-anchor="middle" transform="translate(8.8,457.4) rotate(-90)">Survival (%)</text>
<text x="119" y="548.4" font-size="12.8" font-weight="bold" font-style="normal" text-anchor="middle" >Time after BMT (wks)</text>
<polyline points="38,395.6 61.7,395.6 61.7,406.5 73.5,406.5 73.5,417.7 83,417.7 83,439.8 86.3,439.8 86.3,451 112.8,451 112.8,461.8 135,461.8 135,473.2 158.1,473.2 158.1,484.2 165,484.2 165,506.3 190.9,506.3 190.9,517.3" fill="none" stroke="#000" stroke-width="1.45" stroke-linejoin="miter"/>
<polyline points="38,395.6 62.7,395.6 62.7,414.8 66.5,414.8 66.5,461.9 72.3,461.9 72.3,471.9 83,471.9 83,489.8 96.5,489.8 96.5,499.8 100.8,499.8 100.8,509 113,509 113,517.3" fill="none" stroke="#000" stroke-width="1.45" stroke-linejoin="miter"/>
<ellipse cx="64.2" cy="414.8" rx="4.03" ry="3.77" fill="#000"/>
<ellipse cx="67.5" cy="461.9" rx="4.03" ry="3.77" fill="#000"/>
<ellipse cx="74.2" cy="471.9" rx="4.03" ry="3.77" fill="#000"/>
<ellipse cx="84.4" cy="489.8" rx="4.03" ry="3.77" fill="#000"/>
<ellipse cx="96.9" cy="499.8" rx="4.03" ry="3.77" fill="#000"/>
<ellipse cx="100.8" cy="509" rx="4.03" ry="3.77" fill="#000"/>
<ellipse cx="113" cy="517.6" rx="4.03" ry="3.77" fill="#000"/>
<ellipse cx="60.2" cy="406.5" rx="3.35" ry="3.1" fill="#fff" stroke="#000" stroke-width="1.35"/>
<ellipse cx="73.8" cy="417.7" rx="3.35" ry="3.1" fill="#fff" stroke="#000" stroke-width="1.35"/>
<ellipse cx="83.8" cy="439.8" rx="3.35" ry="3.1" fill="#fff" stroke="#000" stroke-width="1.35"/>
<ellipse cx="86.3" cy="451.3" rx="3.35" ry="3.1" fill="#fff" stroke="#000" stroke-width="1.35"/>
<ellipse cx="112.5" cy="461.8" rx="3.35" ry="3.1" fill="#fff" stroke="#000" stroke-width="1.35"/>
<ellipse cx="135" cy="473.2" rx="3.35" ry="3.1" fill="#fff" stroke="#000" stroke-width="1.35"/>
<ellipse cx="158.1" cy="484.2" rx="3.35" ry="3.1" fill="#fff" stroke="#000" stroke-width="1.35"/>
<ellipse cx="165" cy="506.2" rx="3.35" ry="3.1" fill="#fff" stroke="#000" stroke-width="1.35"/>
<ellipse cx="190.9" cy="518" rx="3.35" ry="3.1" fill="#fff" stroke="#000" stroke-width="1.35"/>
<text transform="translate(143.5,466.9) scale(1.075,1)" x="0" y="0" font-size="10.6" font-weight="normal" font-style="normal" text-anchor="start" >p=0.0052</text>
<line x1="94.2" y1="405.5" x2="107.5" y2="405.5" stroke="#000" stroke-width="1.45"/>
<ellipse cx="100.8" cy="405.5" rx="3.5" ry="3.24" fill="#fff" stroke="#000" stroke-width="1.35"/>
<text x="110.6" y="409.5" font-size="11.2" font-weight="normal" font-style="italic" text-anchor="start" >Cd73</text>
<text x="137.78" y="405.6" font-size="7.4" font-weight="normal" font-style="italic" text-anchor="start" >+/+</text>
<text x="151.7" y="409.5" font-size="11.2" font-weight="normal" font-style="normal" text-anchor="start" >recipient</text>
<line x1="94.2" y1="419.2" x2="107.5" y2="419.2" stroke="#000" stroke-width="1.45"/>
<ellipse cx="100.8" cy="419.2" rx="4.17" ry="3.91" fill="#000"/>
<text x="110.6" y="423" font-size="11.2" font-weight="normal" font-style="italic" text-anchor="start" >Cd73</text>
<text x="137.78" y="419.1" font-size="7.4" font-weight="normal" font-style="italic" text-anchor="start" >-/-</text>
<text x="151.7" y="423" font-size="11.2" font-weight="normal" font-style="normal" text-anchor="start" >recipient</text>
<text x="209.3" y="389.2" font-size="17" font-weight="bold" font-style="normal" text-anchor="start" >F</text>
<text transform="translate(267.5,389.7) scale(1.04,1)" x="0" y="0" font-size="12.2" font-weight="bold" font-style="normal" text-anchor="start" >BALB/c</text>
<line x1="317.92" y1="386.7" x2="324.16" y2="386.7" stroke="#000" stroke-width="1.5"/>
<path d="M323.66,384.3 L327.12,386.7 L323.66,389.1 z" fill="#000"/>
<text transform="translate(330.12,389.7) scale(1.04,1)" x="0" y="0" font-size="12.2" font-weight="bold" font-style="normal" text-anchor="start" >C57BL/6</text>
<line x1="249.5" y1="395.2" x2="249.5" y2="517.6" stroke="#000" stroke-width="1.45"/>
<line x1="245.9" y1="517" x2="249.5" y2="517" stroke="#000" stroke-width="1.45"/>
<text transform="translate(243.1,521) scale(1.12,1)" x="0" y="0" font-size="10.4" font-weight="normal" font-style="normal" text-anchor="end" >0</text>
<line x1="245.9" y1="492.76" x2="249.5" y2="492.76" stroke="#000" stroke-width="1.45"/>
<text transform="translate(243.1,496.76) scale(1.12,1)" x="0" y="0" font-size="10.4" font-weight="normal" font-style="normal" text-anchor="end" >20</text>
<line x1="245.9" y1="468.52" x2="249.5" y2="468.52" stroke="#000" stroke-width="1.45"/>
<text transform="translate(243.1,472.52) scale(1.12,1)" x="0" y="0" font-size="10.4" font-weight="normal" font-style="normal" text-anchor="end" >40</text>
<line x1="245.9" y1="444.28" x2="249.5" y2="444.28" stroke="#000" stroke-width="1.45"/>
<text transform="translate(243.1,448.28) scale(1.12,1)" x="0" y="0" font-size="10.4" font-weight="normal" font-style="normal" text-anchor="end" >60</text>
<line x1="245.9" y1="420.04" x2="249.5" y2="420.04" stroke="#000" stroke-width="1.45"/>
<text transform="translate(243.1,424.04) scale(1.12,1)" x="0" y="0" font-size="10.4" font-weight="normal" font-style="normal" text-anchor="end" >80</text>
<line x1="245.9" y1="395.8" x2="249.5" y2="395.8" stroke="#000" stroke-width="1.45"/>
<text transform="translate(243.1,399.8) scale(1.12,1)" x="0" y="0" font-size="10.4" font-weight="normal" font-style="normal" text-anchor="end" >100</text>
<line x1="248.9" y1="517" x2="409.3" y2="517" stroke="#000" stroke-width="1.45"/>
<line x1="249.5" y1="517" x2="249.5" y2="520.6" stroke="#000" stroke-width="1.45"/>
<line x1="269.47" y1="517" x2="269.47" y2="520.6" stroke="#000" stroke-width="1.45"/>
<line x1="289.44" y1="517" x2="289.44" y2="520.6" stroke="#000" stroke-width="1.45"/>
<line x1="309.41" y1="517" x2="309.41" y2="520.6" stroke="#000" stroke-width="1.45"/>
<line x1="329.38" y1="517" x2="329.38" y2="520.6" stroke="#000" stroke-width="1.45"/>
<line x1="349.35" y1="517" x2="349.35" y2="520.6" stroke="#000" stroke-width="1.45"/>
<line x1="369.32" y1="517" x2="369.32" y2="520.6" stroke="#000" stroke-width="1.45"/>
<line x1="389.29" y1="517" x2="389.29" y2="520.6" stroke="#000" stroke-width="1.45"/>
<line x1="409.26" y1="517" x2="409.26" y2="520.6" stroke="#000" stroke-width="1.45"/>
<text transform="translate(249.5,533.6) scale(1.12,1)" x="0" y="0" font-size="10.4" font-weight="normal" font-style="normal" text-anchor="middle" >0</text>
<text transform="translate(269.47,533.6) scale(1.12,1)" x="0" y="0" font-size="10.4" font-weight="normal" font-style="normal" text-anchor="middle" >1</text>
<text transform="translate(289.44,533.6) scale(1.12,1)" x="0" y="0" font-size="10.4" font-weight="normal" font-style="normal" text-anchor="middle" >2</text>
<text transform="translate(309.41,533.6) scale(1.12,1)" x="0" y="0" font-size="10.4" font-weight="normal" font-style="normal" text-anchor="middle" >3</text>
<text transform="translate(329.38,533.6) scale(1.12,1)" x="0" y="0" font-size="10.4" font-weight="normal" font-style="normal" text-anchor="middle" >4</text>
<text transform="translate(349.35,533.6) scale(1.12,1)" x="0" y="0" font-size="10.4" font-weight="normal" font-style="normal" text-anchor="middle" >5</text>
<text transform="translate(369.32,533.6) scale(1.12,1)" x="0" y="0" font-size="10.4" font-weight="normal" font-style="normal" text-anchor="middle" >6</text>
<text transform="translate(389.29,533.6) scale(1.12,1)" x="0" y="0" font-size="10.4" font-weight="normal" font-style="normal" text-anchor="middle" >7</text>
<text transform="translate(409.26,533.6) scale(1.12,1)" x="0" y="0" font-size="10.4" font-weight="normal" font-style="normal" text-anchor="middle" >8</text>
<text x="0" y="0" font-size="13.4" font-weight="bold" text-anchor="middle" transform="translate(220.4,453.4) rotate(-90)">Survival (%)</text>
<text x="332.3" y="548.4" font-size="12.8" font-weight="bold" font-style="normal" text-anchor="middle" >Time after BMT (wks)</text>
<polyline points="249.5,395.8 263.9,395.8 263.9,408.1 269.3,408.1 269.3,420.2 281.1,420.2 281.1,444.5 297.7,444.5 297.7,493 306.4,493 306.4,517" fill="none" stroke="#000" stroke-width="1.45" stroke-linejoin="miter"/>
<polyline points="249.5,395.8 281.1,395.8 281.1,403.6 283.9,403.6 283.9,411.9 286.8,411.9 286.8,428.4 298.1,428.4 298.1,436.4 314.9,436.4 314.9,444.3 318,444.3 318,452 332.3,452 332.3,460 355.4,460 355.4,476.2 358.2,476.2 358.2,493 375,493 375,500.4 378,500.4 378,509.2 394.6,509.2 394.6,517" fill="none" stroke="#000" stroke-width="1.45" stroke-linejoin="miter"/>
<rect x="260.3" y="404.5" width="7.2" height="7.2" fill="#000"/>
<rect x="265.9" y="416.6" width="7.2" height="7.2" fill="#000"/>
<rect x="277.5" y="440.9" width="7.2" height="7.2" fill="#000"/>
<rect x="294.1" y="489.4" width="7.2" height="7.2" fill="#000"/>
<rect x="302.8" y="513.7" width="7.2" height="7.2" fill="#000"/>
<ellipse cx="280.7" cy="403.6" rx="3.35" ry="3.1" fill="#fff" stroke="#000" stroke-width="1.35"/>
<ellipse cx="283.9" cy="411.9" rx="3.35" ry="3.1" fill="#fff" stroke="#000" stroke-width="1.35"/>
<ellipse cx="286.5" cy="428.4" rx="3.35" ry="3.1" fill="#fff" stroke="#000" stroke-width="1.35"/>
<ellipse cx="298.1" cy="436.5" rx="3.35" ry="3.1" fill="#fff" stroke="#000" stroke-width="1.35"/>
<ellipse cx="314.9" cy="444.3" rx="3.35" ry="3.1" fill="#fff" stroke="#000" stroke-width="1.35"/>
<ellipse cx="318" cy="452.3" rx="3.35" ry="3.1" fill="#fff" stroke="#000" stroke-width="1.35"/>
<ellipse cx="332.3" cy="460" rx="3.35" ry="3.1" fill="#fff" stroke="#000" stroke-width="1.35"/>
<ellipse cx="355.4" cy="476.2" rx="3.35" ry="3.1" fill="#fff" stroke="#000" stroke-width="1.35"/>
<ellipse cx="358.2" cy="493" rx="3.35" ry="3.1" fill="#fff" stroke="#000" stroke-width="1.35"/>
<ellipse cx="375" cy="500.4" rx="3.35" ry="3.1" fill="#fff" stroke="#000" stroke-width="1.35"/>
<ellipse cx="378" cy="509.2" rx="3.35" ry="3.1" fill="#fff" stroke="#000" stroke-width="1.35"/>
<ellipse cx="394.6" cy="517.3" rx="3.35" ry="3.1" fill="#fff" stroke="#000" stroke-width="1.35"/>
<text transform="translate(349.6,454) scale(1.075,1)" x="0" y="0" font-size="10.6" font-weight="normal" font-style="normal" text-anchor="start" >p=0.0022</text>
<line x1="349.4" y1="407.3" x2="363.4" y2="407.3" stroke="#000" stroke-width="1.45"/>
<ellipse cx="356.2" cy="407.3" rx="3.5" ry="3.24" fill="#fff" stroke="#000" stroke-width="1.35"/>
<text x="366.7" y="409.8" font-size="11.6" font-weight="normal" font-style="normal" text-anchor="start" >PBS</text>
<line x1="349.4" y1="420.8" x2="363.4" y2="420.8" stroke="#000" stroke-width="1.45"/>
<rect x="353" y="417.6" width="6.4" height="6.4" fill="#000"/>
<text x="366.9" y="423.9" font-size="11.6" font-weight="normal" font-style="normal" text-anchor="start" >APCP</text>
<text x="2" y="572.3" font-size="17" font-weight="bold" font-style="normal" text-anchor="start" >G</text>
<text x="0" y="0" font-size="12.5" font-weight="bold" text-anchor="middle" transform="translate(11.1,674.9) rotate(-90)">GvHD score</text>
<line x1="38.1" y1="591.5" x2="38.1" y2="760.1" stroke="#000" stroke-width="1.45"/>
<line x1="34.5" y1="759.5" x2="38.1" y2="759.5" stroke="#000" stroke-width="1.45"/>
<text transform="translate(30.7,763.3) scale(1.12,1)" x="0" y="0" font-size="10.4" font-weight="normal" font-style="normal" text-anchor="end" >0</text>
<line x1="34.5" y1="703.7" x2="38.1" y2="703.7" stroke="#000" stroke-width="1.45"/>
<text transform="translate(30.7,707.5) scale(1.12,1)" x="0" y="0" font-size="10.4" font-weight="normal" font-style="normal" text-anchor="end" >1</text>
<line x1="34.5" y1="647.9" x2="38.1" y2="647.9" stroke="#000" stroke-width="1.45"/>
<text transform="translate(30.7,651.7) scale(1.12,1)" x="0" y="0" font-size="10.4" font-weight="normal" font-style="normal" text-anchor="end" >2</text>
<line x1="34.5" y1="592.1" x2="38.1" y2="592.1" stroke="#000" stroke-width="1.45"/>
<text transform="translate(30.7,595.9) scale(1.12,1)" x="0" y="0" font-size="10.4" font-weight="normal" font-style="normal" text-anchor="end" >3</text>
<rect x="51.2" y="689.75" width="27.4" height="69.75" fill="#fff" stroke="#000" stroke-width="1.2"/>
<rect x="78.6" y="631.16" width="26.7" height="128.34" fill="#000" stroke="#000" stroke-width="1.2"/>
<line x1="65.8" y1="703.7" x2="65.8" y2="675.8" stroke="#000" stroke-width="1.45"/>
<line x1="58.55" y1="703.7" x2="73.05" y2="703.7" stroke="#000" stroke-width="1.45"/>
<line x1="58.55" y1="675.8" x2="73.05" y2="675.8" stroke="#000" stroke-width="1.45"/>
<line x1="92" y1="631.16" x2="92" y2="618.88" stroke="#000" stroke-width="1.45"/>
<line x1="85.2" y1="618.88" x2="98.8" y2="618.88" stroke="#000" stroke-width="1.45"/>
<polygon points="91.5,607.4 92.32,609.47 94.54,609.61 92.83,611.03 93.38,613.19 91.5,612 89.62,613.19 90.17,611.03 88.46,609.61 90.68,609.47" fill="#000"/>
<line x1="34.1" y1="759.5" x2="122" y2="759.5" stroke="#000" stroke-width="1.45"/>
<text x="80.2" y="584.6" font-size="12.6" font-weight="bold" font-style="normal" text-anchor="middle" >Liver</text>
<line x1="150.3" y1="591.3" x2="150.3" y2="759.9" stroke="#000" stroke-width="1.45"/>
<line x1="146.7" y1="759.3" x2="150.3" y2="759.3" stroke="#000" stroke-width="1.45"/>
<text transform="translate(142.9,763.1) scale(1.12,1)" x="0" y="0" font-size="10.4" font-weight="normal" font-style="normal" text-anchor="end" >0</text>
<line x1="146.7" y1="703.5" x2="150.3" y2="703.5" stroke="#000" stroke-width="1.45"/>
<text transform="translate(142.9,707.3) scale(1.12,1)" x="0" y="0" font-size="10.4" font-weight="normal" font-style="normal" text-anchor="end" >1</text>
<line x1="146.7" y1="647.7" x2="150.3" y2="647.7" stroke="#000" stroke-width="1.45"/>
<text transform="translate(142.9,651.5) scale(1.12,1)" x="0" y="0" font-size="10.4" font-weight="normal" font-style="normal" text-anchor="end" >2</text>
<line x1="146.7" y1="591.9" x2="150.3" y2="591.9" stroke="#000" stroke-width="1.45"/>
<text transform="translate(142.9,595.7) scale(1.12,1)" x="0" y="0" font-size="10.4" font-weight="normal" font-style="normal" text-anchor="end" >3</text>
<rect x="163.4" y="703.5" width="26.5" height="55.8" fill="#fff" stroke="#000" stroke-width="1.2"/>
<rect x="189.9" y="630.96" width="26.5" height="128.34" fill="#000" stroke="#000" stroke-width="1.2"/>
<line x1="177" y1="718.01" x2="177" y2="687.88" stroke="#000" stroke-width="1.45"/>
<line x1="170.2" y1="718.01" x2="183.8" y2="718.01" stroke="#000" stroke-width="1.45"/>
<line x1="170.2" y1="687.88" x2="183.8" y2="687.88" stroke="#000" stroke-width="1.45"/>
<line x1="203.1" y1="630.96" x2="203.1" y2="621.47" stroke="#000" stroke-width="1.45"/>
<line x1="196.3" y1="621.47" x2="209.9" y2="621.47" stroke="#000" stroke-width="1.45"/>
<polygon points="203,608.5 203.82,610.57 206.04,610.71 204.33,612.13 204.88,614.29 203,613.1 201.12,614.29 201.67,612.13 199.96,610.71 202.18,610.57" fill="#000"/>
<line x1="146.3" y1="759.3" x2="233.5" y2="759.3" stroke="#000" stroke-width="1.45"/>
<text x="191" y="584.6" font-size="12.6" font-weight="bold" font-style="normal" text-anchor="middle" >Small intestine</text>
<line x1="257.7" y1="590.9" x2="257.7" y2="759.7" stroke="#000" stroke-width="1.45"/>
<line x1="254.1" y1="759.1" x2="257.7" y2="759.1" stroke="#000" stroke-width="1.45"/>
<text transform="translate(250.3,762.9) scale(1.12,1)" x="0" y="0" font-size="10.4" font-weight="normal" font-style="normal" text-anchor="end" >0</text>
<line x1="254.1" y1="717.2" x2="257.7" y2="717.2" stroke="#000" stroke-width="1.45"/>
<text transform="translate(250.3,721) scale(1.12,1)" x="0" y="0" font-size="10.4" font-weight="normal" font-style="normal" text-anchor="end" >1</text>
<line x1="254.1" y1="675.3" x2="257.7" y2="675.3" stroke="#000" stroke-width="1.45"/>
<text transform="translate(250.3,679.1) scale(1.12,1)" x="0" y="0" font-size="10.4" font-weight="normal" font-style="normal" text-anchor="end" >2</text>
<line x1="254.1" y1="633.4" x2="257.7" y2="633.4" stroke="#000" stroke-width="1.45"/>
<text transform="translate(250.3,637.2) scale(1.12,1)" x="0" y="0" font-size="10.4" font-weight="normal" font-style="normal" text-anchor="end" >3</text>
<line x1="254.1" y1="591.5" x2="257.7" y2="591.5" stroke="#000" stroke-width="1.45"/>
<text transform="translate(250.3,595.3) scale(1.12,1)" x="0" y="0" font-size="10.4" font-weight="normal" font-style="normal" text-anchor="end" >4</text>
<rect x="271.7" y="677.39" width="26.9" height="81.7" fill="#fff" stroke="#000" stroke-width="1.2"/>
<rect x="298.6" y="629.21" width="26.4" height="129.89" fill="#000" stroke="#000" stroke-width="1.2"/>
<line x1="285.8" y1="687.87" x2="285.8" y2="666.92" stroke="#000" stroke-width="1.45"/>
<line x1="279.3" y1="687.87" x2="292.3" y2="687.87" stroke="#000" stroke-width="1.45"/>
<line x1="279.3" y1="666.92" x2="292.3" y2="666.92" stroke="#000" stroke-width="1.45"/>
<line x1="311.7" y1="629.21" x2="311.7" y2="620.41" stroke="#000" stroke-width="1.45"/>
<line x1="304.9" y1="620.41" x2="318.5" y2="620.41" stroke="#000" stroke-width="1.45"/>
<polygon points="311,609.1 311.82,611.17 314.04,611.31 312.33,612.73 312.88,614.89 311,613.7 309.12,614.89 309.67,612.73 307.96,611.31 310.18,611.17" fill="#000"/>
<line x1="253.7" y1="759.1" x2="341.7" y2="759.1" stroke="#000" stroke-width="1.45"/>
<text x="300" y="584.6" font-size="12.6" font-weight="bold" font-style="normal" text-anchor="middle" >Colon</text>
<rect x="125.2" y="780.3" width="10.4" height="10.4" fill="#fff" stroke="#000" stroke-width="1.2"/>
<rect x="189.9" y="779.7" width="11" height="11" fill="#000"/>
<text x="141.6" y="789.8" font-size="11.8" font-style="italic">Cd73<tspan font-size="7" dy="-4.4">+/+</tspan></text>
<text x="206.4" y="789.8" font-size="11.8" font-style="italic">Cd73<tspan font-size="7" dy="-4.4">-/-</tspan></text>
<defs>
<clipPath id="c1"><rect x="358.5" y="565" width="137" height="117.3"/></clipPath>
<clipPath id="c2"><rect x="358.5" y="688.5" width="137" height="118"/></clipPath>
<filter id="tdk" x="350" y="560" width="150" height="250" filterUnits="userSpaceOnUse" color-interpolation-filters="sRGB">
<feTurbulence type="fractalNoise" baseFrequency="0.3" numOctaves="2" seed="7" result="n"/>
<feColorMatrix in="n" type="matrix" values="0 0 0 0 0.6  0 0 0 0 0.52  0 0 0 0 0.62  2.6 0 0 0 -1.25"/>
</filter>
<filter id="tlt" x="350" y="560" width="150" height="250" filterUnits="userSpaceOnUse" color-interpolation-filters="sRGB">
<feTurbulence type="fractalNoise" baseFrequency="0.3" numOctaves="2" seed="19" result="n"/>
<feColorMatrix in="n" type="matrix" values="0 0 0 0 0.9  0 0 0 0 0.9  0 0 0 0 0.94  2.6 0 0 0 -1.2"/>
</filter>
<filter id="tpk" x="350" y="560" width="150" height="250" filterUnits="userSpaceOnUse" color-interpolation-filters="sRGB">
<feTurbulence type="fractalNoise" baseFrequency="0.05" numOctaves="2" seed="3" result="n"/>
<feColorMatrix in="n" type="matrix" values="0 0 0 0 0.85  0 0 0 0 0.62  0 0 0 0 0.8  2.0 0 0 0 -0.85"/>
</filter>
<filter id="tcy" x="350" y="560" width="150" height="250" filterUnits="userSpaceOnUse" color-interpolation-filters="sRGB">
<feTurbulence type="fractalNoise" baseFrequency="0.06" numOctaves="2" seed="23" result="n"/>
<feColorMatrix in="n" type="matrix" values="0 0 0 0 0.7  0 0 0 0 0.82  0 0 0 0 0.84  2.0 0 0 0 -0.9"/>
</filter>
<filter id="tcr" x="350" y="560" width="150" height="250" filterUnits="userSpaceOnUse" color-interpolation-filters="sRGB">
<feTurbulence type="fractalNoise" baseFrequency="0.13" numOctaves="2" seed="5" result="n"/>
<feColorMatrix in="n" type="matrix" values="0 0 0 0 0.54  0 0 0 0 0.46  0 0 0 0 0.68  3.0 0 0 0 -1.4"/>
</filter>
<filter id="tvn" x="350" y="560" width="150" height="250" filterUnits="userSpaceOnUse" color-interpolation-filters="sRGB">
<feTurbulence type="turbulence" baseFrequency="0.12" numOctaves="1" seed="4" result="n"/>
<feColorMatrix in="n" type="matrix" values="0 0 0 0 0.95  0 0 0 0 0.94  0 0 0 0 0.97  -6 0 0 0 1.3"/>
<feGaussianBlur stdDeviation="0.35"/>
</filter>
<filter id="tfg" x="350" y="560" width="150" height="250" filterUnits="userSpaceOnUse" color-interpolation-filters="sRGB">
<feTurbulence type="fractalNoise" baseFrequency="0.55" numOctaves="1" seed="31" result="n"/>
<feColorMatrix in="n" type="matrix" values="0 0 0 0 0.92  0 0 0 0 0.92  0 0 0 0 0.93  3.0 0 0 0 -1.45"/>
</filter>
<filter id="tfd" x="350" y="560" width="150" height="250" filterUnits="userSpaceOnUse" color-interpolation-filters="sRGB">
<feTurbulence type="fractalNoise" baseFrequency="0.5" numOctaves="1" seed="37" result="n"/>
<feColorMatrix in="n" type="matrix" values="0 0 0 0 0.55  0 0 0 0 0.52  0 0 0 0 0.58  3.0 0 0 0 -1.5"/>
</filter>
<filter id="tvn2" x="350" y="560" width="150" height="250" filterUnits="userSpaceOnUse" color-interpolation-filters="sRGB">
<feTurbulence type="turbulence" baseFrequency="0.09" numOctaves="1" seed="12" result="n"/>
<feColorMatrix in="n" type="matrix" values="0 0 0 0 0.95  0 0 0 0 0.94  0 0 0 0 0.97  -6 0 0 0 1.25"/>
<feGaussianBlur stdDeviation="0.35"/>
</filter>
<filter id="bl1" x="-20%" y="-20%" width="140%" height="140%"><feGaussianBlur stdDeviation="0.9"/></filter>
<filter id="bl2" x="-20%" y="-20%" width="140%" height="140%"><feGaussianBlur stdDeviation="0.55"/></filter>
<linearGradient id="gcy" x1="400" y1="0" x2="480" y2="0" gradientUnits="userSpaceOnUse"><stop offset="0" stop-color="#b4c4c8" stop-opacity="0"/><stop offset="1" stop-color="#aabcc4" stop-opacity="0.7"/></linearGradient>
</defs>
<g clip-path="url(#c1)">
<rect x="358" y="564" width="138" height="120" fill="#c2b8c4"/>
<polygon points="358,564 403.5,564 402.4,566 396.4,577.5 389.6,588.2 381.6,597.6 376.2,604.4 371.5,611.1 366.8,617.8 360.7,623.2 357,625.5" fill="#c8b0c4"/>
<path d="M479.5,564 L479.5,630 Q476,650 468,668 L462,684 L496,684 L496,564 z" fill="#c8ccd2"/>
<rect x="358" y="564" width="138" height="120" fill="url(#gcy)"/>
<rect x="356" y="562" width="142" height="245" filter="url(#tpk)" opacity="0.3"/>
<rect x="356" y="562" width="142" height="245" filter="url(#tcy)" opacity="0.4"/>
<rect x="356" y="562" width="142" height="245" filter="url(#tdk)" opacity="0.8"/>
<g fill="#8e7e98" opacity="0.26" filter="url(#bl2)"><ellipse cx="360.11" cy="567.23" rx="2.43" ry="2.29" transform="rotate(-25.95 360.11 567.23)"/><ellipse cx="369.3" cy="565.16" rx="2.87" ry="1.82" transform="rotate(-21.22 369.3 565.16)"/><ellipse cx="375.33" cy="566.82" rx="3.33" ry="2.11" transform="rotate(-29.85 375.33 566.82)"/><ellipse cx="381.81" cy="564.44" rx="2.53" ry="1.6" transform="rotate(-33.87 381.81 564.44)"/><ellipse cx="385.63" cy="565.54" rx="3.02" ry="1.67" transform="rotate(-21.19 385.63 565.54)"/><ellipse cx="396.23" cy="565.01" rx="2.53" ry="1.83" transform="rotate(-43.73 396.23 565.01)"/><ellipse cx="402.01" cy="565.27" rx="3.6" ry="2.34" transform="rotate(-18.75 402.01 565.27)"/><ellipse cx="410.73" cy="567.78" rx="3.06" ry="1.63" transform="rotate(-35.13 410.73 567.78)"/><ellipse cx="415.51" cy="567.99" rx="2.9" ry="1.72" transform="rotate(-16.44 415.51 567.99)"/><ellipse cx="420.81" cy="567.25" rx="2.72" ry="1.75" transform="rotate(-20.47 420.81 567.25)"/><ellipse cx="431.88" cy="564.6" rx="2.37" ry="2.53" transform="rotate(-31.41 431.88 564.6)"/><ellipse cx="438.03" cy="566.24" rx="2.97" ry="1.94" transform="rotate(-30.46 438.03 566.24)"/><ellipse cx="446.28" cy="564.84" rx="2.46" ry="1.64" transform="rotate(-19.02 446.28 564.84)"/><ellipse cx="451.2" cy="567.53" rx="2.53" ry="2.38" transform="rotate(-38.74 451.2 567.53)"/><ellipse cx="458.69" cy="565.24" rx="3.56" ry="2.49" transform="rotate(-22.36 458.69 565.24)"/><ellipse cx="462.91" cy="567.76" rx="3.27" ry="2.18" transform="rotate(-23.11 462.91 567.76)"/><ellipse cx="471.87" cy="567.99" rx="2.37" ry="2.08" transform="rotate(-20.19 471.87 567.99)"/><ellipse cx="477.21" cy="567.25" rx="2.48" ry="2.52" transform="rotate(-18.37 477.21 567.25)"/><ellipse cx="487.57" cy="567.68" rx="2.77" ry="1.97" transform="rotate(-31.46 487.57 567.68)"/><ellipse cx="490.59" cy="565.49" rx="2.74" ry="2.59" transform="rotate(-33.4 490.59 565.49)"/><ellipse cx="361.26" cy="574.01" rx="2.24" ry="1.69" transform="rotate(-23.46 361.26 574.01)"/><ellipse cx="369.77" cy="574.84" rx="3.59" ry="2.1" transform="rotate(-30.25 369.77 574.84)"/><ellipse cx="376.87" cy="574.1" rx="2.97" ry="2.35" transform="rotate(-38.34 376.87 574.1)"/><ellipse cx="386.34" cy="571.96" rx="3.05" ry="2.16" transform="rotate(-26.32 386.34 571.96)"/><ellipse cx="391.78" cy="574.83" rx="2.45" ry="1.77" transform="rotate(-34.55 391.78 574.83)"/><ellipse cx="398.63" cy="572.44" rx="3.5" ry="1.95" transform="rotate(-27.08 398.63 572.44)"/><ellipse cx="404.34" cy="574.15" rx="2.63" ry="1.7" transform="rotate(-43.03 404.34 574.15)"/><ellipse cx="410.96" cy="573.42" rx="3.34" ry="2.38" transform="rotate(-33.75 410.96 573.42)"/><ellipse cx="419.78" cy="573.21" rx="3.16" ry="2.28" transform="rotate(-18.04 419.78 573.21)"/><ellipse cx="424.65" cy="573.63" rx="3.54" ry="2.01" transform="rotate(-15.33 424.65 573.63)"/><ellipse cx="435.58" cy="572.28" rx="3.55" ry="2.19" transform="rotate(-18.5 435.58 572.28)"/><ellipse cx="439.66" cy="574.64" rx="2.89" ry="1.98" transform="rotate(-37.58 439.66 574.64)"/><ellipse cx="447.89" cy="572.09" rx="3.43" ry="1.76" transform="rotate(-42.92 447.89 572.09)"/><ellipse cx="452.05" cy="574.01" rx="3.33" ry="2.37" transform="rotate(-30.5 452.05 574.01)"/><ellipse cx="460.74" cy="572.87" rx="3.37" ry="1.65" transform="rotate(-37.26 460.74 572.87)"/><ellipse cx="467.36" cy="573.53" rx="2.61" ry="2.02" transform="rotate(-39.88 467.36 573.53)"/><ellipse cx="476.64" cy="572.24" rx="2.3" ry="1.94" transform="rotate(-18.03 476.64 572.24)"/><ellipse cx="480.38" cy="574.95" rx="3.58" ry="2.35" transform="rotate(-30.63 480.38 574.95)"/><ellipse cx="491.55" cy="571.08" rx="2.55" ry="2.56" transform="rotate(-29.23 491.55 571.08)"/><ellipse cx="496.82" cy="573.74" rx="3.22" ry="1.63" transform="rotate(-38.64 496.82 573.74)"/><ellipse cx="359.52" cy="580.93" rx="3.37" ry="2.4" transform="rotate(-18.56 359.52 580.93)"/><ellipse cx="369.3" cy="580.36" rx="3.04" ry="2.03" transform="rotate(-27.57 369.3 580.36)"/><ellipse cx="373.46" cy="578.78" rx="3.39" ry="1.91" transform="rotate(-28.97 373.46 578.78)"/><ellipse cx="379.76" cy="578.6" rx="2.59" ry="2.37" transform="rotate(-44.69 379.76 578.6)"/><ellipse cx="386.05" cy="578.85" rx="3.16" ry="2.55" transform="rotate(-44.29 386.05 578.85)"/><ellipse cx="396.71" cy="580.15" rx="3.03" ry="2.24" transform="rotate(-19.45 396.71 580.15)"/><ellipse cx="403.52" cy="581.68" rx="3.02" ry="1.86" transform="rotate(-32.83 403.52 581.68)"/><ellipse cx="410.55" cy="578.2" rx="3.54" ry="2.51" transform="rotate(-40.99 410.55 578.2)"/><ellipse cx="418.13" cy="578.37" rx="2.33" ry="1.69" transform="rotate(-44.24 418.13 578.37)"/><ellipse cx="424.35" cy="581.36" rx="2.83" ry="1.74" transform="rotate(-18.98 424.35 581.36)"/><ellipse cx="430.79" cy="579.61" rx="3.12" ry="1.73" transform="rotate(-28.84 430.79 579.61)"/><ellipse cx="434.88" cy="578.34" rx="2.65" ry="2.09" transform="rotate(-38.41 434.88 578.34)"/><ellipse cx="444.68" cy="578.97" rx="2.43" ry="1.78" transform="rotate(-33.67 444.68 578.97)"/><ellipse cx="451.16" cy="579.06" rx="3.19" ry="2.15" transform="rotate(-43.61 451.16 579.06)"/><ellipse cx="456.32" cy="579.18" rx="3.2" ry="2.47" transform="rotate(-21.77 456.32 579.18)"/><ellipse cx="466.12" cy="579.95" rx="3.31" ry="1.61" transform="rotate(-31.08 466.12 579.95)"/><ellipse cx="471.46" cy="579.95" rx="2.29" ry="2.36" transform="rotate(-39.74 471.46 579.95)"/><ellipse cx="479.27" cy="580.06" rx="3.2" ry="1.85" transform="rotate(-24.1 479.27 580.06)"/><ellipse cx="485.73" cy="581.87" rx="2.64" ry="1.64" transform="rotate(-33.33 485.73 581.87)"/><ellipse cx="494.26" cy="578.92" rx="2.63" ry="2.5" transform="rotate(-36.15 494.26 578.92)"/><ellipse cx="362.59" cy="585.76" rx="2.9" ry="2.15" transform="rotate(-16.55 362.59 585.76)"/><ellipse cx="369.82" cy="585.11" rx="2.34" ry="2.2" transform="rotate(-29.75 369.82 585.11)"/><ellipse cx="378.72" cy="587.27" rx="3.23" ry="2.57" transform="rotate(-35.7 378.72 587.27)"/><ellipse cx="384.11" cy="588.57" rx="3.18" ry="2.13" transform="rotate(-28.18 384.11 588.57)"/><ellipse cx="390.64" cy="587.31" rx="2.29" ry="2.41" transform="rotate(-15.69 390.64 587.31)"/><ellipse cx="400.65" cy="587.22" rx="2.7" ry="1.92" transform="rotate(-15.2 400.65 587.22)"/><ellipse cx="406.06" cy="586.47" rx="2.35" ry="1.68" transform="rotate(-42.8 406.06 586.47)"/><ellipse cx="414.99" cy="588.02" rx="3.34" ry="2.36" transform="rotate(-31.56 414.99 588.02)"/><ellipse cx="418.52" cy="586.42" rx="3.07" ry="1.62" transform="rotate(-25.66 418.52 586.42)"/><ellipse cx="426.96" cy="587.07" rx="2.82" ry="2.12" transform="rotate(-33.32 426.96 587.07)"/><ellipse cx="433.62" cy="585.77" rx="2.76" ry="1.83" transform="rotate(-43.54 433.62 585.77)"/><ellipse cx="440.88" cy="587.82" rx="2.81" ry="1.85" transform="rotate(-23.87 440.88 587.82)"/><ellipse cx="448.82" cy="586.8" rx="3.34" ry="2.32" transform="rotate(-31.32 448.82 586.8)"/><ellipse cx="454.23" cy="587.02" rx="2.53" ry="1.99" transform="rotate(-30.4 454.23 587.02)"/><ellipse cx="461.68" cy="586.9" rx="3.08" ry="2.56" transform="rotate(-42.44 461.68 586.9)"/><ellipse cx="466.06" cy="586.05" rx="2.87" ry="2.09" transform="rotate(-23.48 466.06 586.05)"/><ellipse cx="477.94" cy="588.31" rx="3.45" ry="2.38" transform="rotate(-26.2 477.94 588.31)"/><ellipse cx="482.34" cy="588.01" rx="3.26" ry="2.27" transform="rotate(-19.23 482.34 588.01)"/><ellipse cx="488.06" cy="586.07" rx="3.18" ry="2.28" transform="rotate(-37.64 488.06 586.07)"/><ellipse cx="496.59" cy="587.8" rx="3.48" ry="1.99" transform="rotate(-26.56 496.59 587.8)"/><ellipse cx="357.64" cy="593.89" rx="3.35" ry="2.56" transform="rotate(-15.32 357.64 593.89)"/><ellipse cx="369.03" cy="594.45" rx="2.21" ry="1.91" transform="rotate(-35.65 369.03 594.45)"/><ellipse cx="376.47" cy="592.39" rx="2.75" ry="1.75" transform="rotate(-28.4 376.47 592.39)"/><ellipse cx="383.04" cy="595.35" rx="2.31" ry="1.9" transform="rotate(-16.69 383.04 595.35)"/><ellipse cx="385.63" cy="594.15" rx="3.24" ry="2.06" transform="rotate(-41.75 385.63 594.15)"/><ellipse cx="396.3" cy="592.89" rx="3.54" ry="2.3" transform="rotate(-38.83 396.3 592.89)"/><ellipse cx="402.75" cy="595.4" rx="2.67" ry="2.24" transform="rotate(-24.55 402.75 595.4)"/><ellipse cx="410.47" cy="593.71" rx="2.57" ry="2.55" transform="rotate(-35.34 410.47 593.71)"/><ellipse cx="413.79" cy="594.16" rx="2.56" ry="2.45" transform="rotate(-40.4 413.79 594.16)"/><ellipse cx="421.44" cy="594.15" rx="3.15" ry="1.8" transform="rotate(-27.06 421.44 594.15)"/><ellipse cx="428.85" cy="593.39" rx="2.59" ry="1.98" transform="rotate(-16.78 428.85 593.39)"/><ellipse cx="437.22" cy="595.28" rx="2.85" ry="2.04" transform="rotate(-26.49 437.22 595.28)"/><ellipse cx="446.38" cy="593.62" rx="2.59" ry="1.77" transform="rotate(-33.46 446.38 593.62)"/><ellipse cx="448.54" cy="595" rx="2.58" ry="1.79" transform="rotate(-16.18 448.54 595)"/><ellipse cx="457.2" cy="595.03" rx="2.25" ry="2.41" transform="rotate(-16.96 457.2 595.03)"/><ellipse cx="466.65" cy="592.13" rx="3.19" ry="1.62" transform="rotate(-29.96 466.65 592.13)"/><ellipse cx="473.15" cy="593.14" rx="2.25" ry="2.21" transform="rotate(-23.99 473.15 593.14)"/><ellipse cx="478.11" cy="593.34" rx="2.54" ry="1.61" transform="rotate(-28.67 478.11 593.34)"/><ellipse cx="486.19" cy="592.97" rx="2.33" ry="1.91" transform="rotate(-31.38 486.19 592.97)"/><ellipse cx="492.97" cy="593.13" rx="3.45" ry="1.97" transform="rotate(-40.95 492.97 593.13)"/><ellipse cx="361.62" cy="600" rx="3.31" ry="2.42" transform="rotate(-29.12 361.62 600)"/><ellipse cx="371.4" cy="600.24" rx="2.27" ry="1.79" transform="rotate(-32.91 371.4 600.24)"/><ellipse cx="376" cy="600.46" rx="2.97" ry="1.83" transform="rotate(-20.93 376 600.46)"/><ellipse cx="383.07" cy="602.94" rx="3.38" ry="2.53" transform="rotate(-18.49 383.07 602.94)"/><ellipse cx="392.94" cy="599.61" rx="2.22" ry="2.18" transform="rotate(-42.59 392.94 599.61)"/><ellipse cx="397.47" cy="600.74" rx="3.46" ry="2.35" transform="rotate(-22.22 397.47 600.74)"/><ellipse cx="405.64" cy="600.55" rx="2.46" ry="1.66" transform="rotate(-20.54 405.64 600.55)"/><ellipse cx="412.62" cy="602.04" rx="3.05" ry="2.22" transform="rotate(-30.87 412.62 602.04)"/><ellipse cx="417.77" cy="601.24" rx="3.32" ry="1.94" transform="rotate(-36.91 417.77 601.24)"/><ellipse cx="424.82" cy="601.14" rx="2.69" ry="1.9" transform="rotate(-26.19 424.82 601.14)"/><ellipse cx="432.59" cy="602.21" rx="3.45" ry="1.67" transform="rotate(-42.97 432.59 602.21)"/><ellipse cx="442.41" cy="602.83" rx="2.92" ry="2.28" transform="rotate(-39.31 442.41 602.83)"/><ellipse cx="447.04" cy="601.47" rx="2.58" ry="1.66" transform="rotate(-43.89 447.04 601.47)"/><ellipse cx="452.84" cy="601.85" rx="2.89" ry="2.28" transform="rotate(-25.4 452.84 601.85)"/><ellipse cx="462.89" cy="600.71" rx="2.42" ry="1.7" transform="rotate(-17.07 462.89 600.71)"/><ellipse cx="467.61" cy="602.03" rx="2.95" ry="2.01" transform="rotate(-24.27 467.61 602.03)"/><ellipse cx="476.75" cy="602.2" rx="3.22" ry="2.12" transform="rotate(-42.65 476.75 602.2)"/><ellipse cx="481.44" cy="599.97" rx="3.36" ry="1.81" transform="rotate(-43.79 481.44 599.97)"/><ellipse cx="488.25" cy="599.76" rx="2.69" ry="2.13" transform="rotate(-26.15 488.25 599.76)"/><ellipse cx="494.04" cy="599.49" rx="2.44" ry="2.31" transform="rotate(-30.19 494.04 599.49)"/><ellipse cx="359.96" cy="607.72" rx="2.43" ry="2.45" transform="rotate(-20.8 359.96 607.72)"/><ellipse cx="368.95" cy="607.51" rx="3.47" ry="2.28" transform="rotate(-38.48 368.95 607.51)"/><ellipse cx="372.35" cy="609.72" rx="3.29" ry="2.5" transform="rotate(-29 372.35 609.72)"/><ellipse cx="378.86" cy="607.36" rx="3.47" ry="2.57" transform="rotate(-33.3 378.86 607.36)"/><ellipse cx="389.32" cy="607.29" rx="3.52" ry="2.54" transform="rotate(-21.18 389.32 607.29)"/><ellipse cx="397.32" cy="608.97" rx="2.22" ry="1.95" transform="rotate(-26.59 397.32 608.97)"/><ellipse cx="401.04" cy="609.45" rx="3.05" ry="2.36" transform="rotate(-25.59 401.04 609.45)"/><ellipse cx="411.11" cy="608.06" rx="2.43" ry="2.53" transform="rotate(-28.91 411.11 608.06)"/><ellipse cx="414.22" cy="606.42" rx="3.43" ry="1.81" transform="rotate(-15.06 414.22 606.42)"/><ellipse cx="424.59" cy="609.55" rx="2.98" ry="2.38" transform="rotate(-22.8 424.59 609.55)"/><ellipse cx="430.77" cy="609.1" rx="3.44" ry="1.96" transform="rotate(-42.52 430.77 609.1)"/><ellipse cx="438.47" cy="606.95" rx="2.77" ry="1.78" transform="rotate(-28.8 438.47 606.95)"/><ellipse cx="442.57" cy="609.47" rx="3.34" ry="1.96" transform="rotate(-41.07 442.57 609.47)"/><ellipse cx="452.7" cy="607.74" rx="2.24" ry="2.02" transform="rotate(-27.59 452.7 607.74)"/><ellipse cx="456.85" cy="606.31" rx="2.24" ry="2.27" transform="rotate(-38.67 456.85 606.31)"/><ellipse cx="464.52" cy="609.64" rx="2.35" ry="2.53" transform="rotate(-29.31 464.52 609.64)"/><ellipse cx="470.52" cy="607.26" rx="3.45" ry="2.11" transform="rotate(-41.31 470.52 607.26)"/><ellipse cx="476.68" cy="608.28" rx="2.54" ry="2.02" transform="rotate(-25.77 476.68 608.28)"/><ellipse cx="483.8" cy="608.7" rx="3.28" ry="2.35" transform="rotate(-25.48 483.8 608.7)"/><ellipse cx="492.96" cy="607.69" rx="2.55" ry="2.03" transform="rotate(-33.66 492.96 607.69)"/><ellipse cx="362.3" cy="614.21" rx="2.89" ry="1.87" transform="rotate(-28.87 362.3 614.21)"/><ellipse cx="372.47" cy="616.76" rx="2.84" ry="1.64" transform="rotate(-20.31 372.47 616.76)"/><ellipse cx="378.76" cy="613.85" rx="3.02" ry="2.4" transform="rotate(-22.9 378.76 613.85)"/><ellipse cx="383.04" cy="614.45" rx="3.22" ry="2.59" transform="rotate(-33.69 383.04 614.45)"/><ellipse cx="393.38" cy="616.77" rx="2.75" ry="1.6" transform="rotate(-25.07 393.38 616.77)"/><ellipse cx="397.15" cy="615.53" rx="3.01" ry="2.18" transform="rotate(-15.07 397.15 615.53)"/><ellipse cx="404.9" cy="614.82" rx="2.48" ry="1.83" transform="rotate(-22.98 404.9 614.82)"/><ellipse cx="410.99" cy="615.89" rx="3.34" ry="2.08" transform="rotate(-43.35 410.99 615.89)"/><ellipse cx="420.91" cy="616.76" rx="2.72" ry="2.43" transform="rotate(-30 420.91 616.76)"/><ellipse cx="426.42" cy="614.77" rx="2.85" ry="1.99" transform="rotate(-26.15 426.42 614.77)"/><ellipse cx="434.23" cy="613.53" rx="3.04" ry="2.29" transform="rotate(-19.04 434.23 613.53)"/><ellipse cx="442.39" cy="616.07" rx="3.25" ry="1.97" transform="rotate(-37.49 442.39 616.07)"/><ellipse cx="446.14" cy="614.61" rx="3.29" ry="2.39" transform="rotate(-17.16 446.14 614.61)"/><ellipse cx="454.43" cy="616.41" rx="2.48" ry="2.45" transform="rotate(-18.28 454.43 616.41)"/><ellipse cx="462.46" cy="613.96" rx="2.31" ry="1.91" transform="rotate(-25.99 462.46 613.96)"/><ellipse cx="470.76" cy="616.72" rx="2.4" ry="2.43" transform="rotate(-37.05 470.76 616.72)"/><ellipse cx="477.29" cy="614.97" rx="3.16" ry="1.9" transform="rotate(-38.45 477.29 614.97)"/><ellipse cx="482.37" cy="614.63" rx="2.49" ry="2.1" transform="rotate(-23.61 482.37 614.63)"/><ellipse cx="491.89" cy="614.93" rx="2.51" ry="2.29" transform="rotate(-34.95 491.89 614.93)"/><ellipse cx="498.8" cy="613.74" rx="3.11" ry="1.97" transform="rotate(-39.2 498.8 613.74)"/><ellipse cx="357.65" cy="621.89" rx="2.4" ry="1.66" transform="rotate(-24.11 357.65 621.89)"/><ellipse cx="365.49" cy="621.03" rx="2.78" ry="1.72" transform="rotate(-18.58 365.49 621.03)"/><ellipse cx="371.68" cy="620.5" rx="3.12" ry="1.62" transform="rotate(-23.26 371.68 620.5)"/><ellipse cx="380.71" cy="620.35" rx="3.03" ry="2.04" transform="rotate(-29.98 380.71 620.35)"/><ellipse cx="386.98" cy="622.45" rx="3.55" ry="1.97" transform="rotate(-25.91 386.98 622.45)"/><ellipse cx="393.8" cy="621.25" rx="3.09" ry="1.97" transform="rotate(-34.61 393.8 621.25)"/><ellipse cx="401.39" cy="621.05" rx="3.26" ry="2.24" transform="rotate(-31.29 401.39 621.05)"/><ellipse cx="409.32" cy="623.11" rx="2.92" ry="1.82" transform="rotate(-21.32 409.32 623.11)"/><ellipse cx="413.66" cy="622.15" rx="2.23" ry="2.24" transform="rotate(-31.35 413.66 622.15)"/><ellipse cx="423.17" cy="623.67" rx="2.51" ry="2.19" transform="rotate(-27.51 423.17 623.67)"/><ellipse cx="431.02" cy="621.1" rx="2.32" ry="2.09" transform="rotate(-40.05 431.02 621.1)"/><ellipse cx="437.58" cy="623.6" rx="3.32" ry="1.93" transform="rotate(-35.15 437.58 623.6)"/><ellipse cx="446.26" cy="623.07" rx="2.5" ry="1.65" transform="rotate(-39.4 446.26 623.07)"/><ellipse cx="449.04" cy="621.49" rx="2.41" ry="2.22" transform="rotate(-19.58 449.04 621.49)"/><ellipse cx="457.89" cy="621.32" rx="2.51" ry="1.71" transform="rotate(-28.97 457.89 621.32)"/><ellipse cx="466.29" cy="621.97" rx="2.36" ry="2.01" transform="rotate(-22.17 466.29 621.97)"/><ellipse cx="474.39" cy="620.03" rx="2.48" ry="2.3" transform="rotate(-28.84 474.39 620.03)"/><ellipse cx="480.54" cy="620.45" rx="2.32" ry="1.84" transform="rotate(-27.02 480.54 620.45)"/><ellipse cx="486.09" cy="620.6" rx="2.33" ry="1.8" transform="rotate(-27.7 486.09 620.6)"/><ellipse cx="492.41" cy="622.45" rx="3.35" ry="2.12" transform="rotate(-25.09 492.41 622.45)"/><ellipse cx="365.79" cy="627.16" rx="2.21" ry="1.9" transform="rotate(-35.46 365.79 627.16)"/><ellipse cx="369.96" cy="627.44" rx="3.48" ry="1.96" transform="rotate(-21.46 369.96 627.44)"/><ellipse cx="378.71" cy="627.57" rx="2.25" ry="2.1" transform="rotate(-18.26 378.71 627.57)"/><ellipse cx="382.98" cy="630.24" rx="3.28" ry="2.18" transform="rotate(-39.54 382.98 630.24)"/><ellipse cx="389.24" cy="630.54" rx="3.5" ry="1.68" transform="rotate(-16.06 389.24 630.54)"/><ellipse cx="397.34" cy="630.98" rx="3.29" ry="2.32" transform="rotate(-29.08 397.34 630.98)"/><ellipse cx="403.53" cy="627.38" rx="2.43" ry="1.94" transform="rotate(-25.08 403.53 627.38)"/><ellipse cx="412.38" cy="628.24" rx="3.12" ry="1.99" transform="rotate(-20.96 412.38 628.24)"/><ellipse cx="420.22" cy="628.21" rx="2.27" ry="1.89" transform="rotate(-42.29 420.22 628.21)"/><ellipse cx="425.65" cy="627.07" rx="2.65" ry="2.39" transform="rotate(-22.4 425.65 627.07)"/><ellipse cx="431.44" cy="627.01" rx="2.41" ry="1.91" transform="rotate(-41.64 431.44 627.01)"/><ellipse cx="440.31" cy="630.5" rx="3.13" ry="2.04" transform="rotate(-38.05 440.31 630.5)"/><ellipse cx="447.68" cy="628.29" rx="2.72" ry="2.47" transform="rotate(-32.25 447.68 628.29)"/><ellipse cx="454.3" cy="630.06" rx="3.17" ry="2.23" transform="rotate(-30.79 454.3 630.06)"/><ellipse cx="463.35" cy="627.37" rx="2.98" ry="1.96" transform="rotate(-39.05 463.35 627.37)"/><ellipse cx="469.23" cy="628.19" rx="2.89" ry="1.9" transform="rotate(-35.1 469.23 628.19)"/><ellipse cx="477.65" cy="629.9" rx="2.46" ry="2.51" transform="rotate(-32.23 477.65 629.9)"/><ellipse cx="482.95" cy="629.66" rx="2.48" ry="1.63" transform="rotate(-38.57 482.95 629.66)"/><ellipse cx="490.81" cy="627.28" rx="3.42" ry="1.94" transform="rotate(-24.99 490.81 627.28)"/><ellipse cx="495.61" cy="627.16" rx="2.52" ry="2.25" transform="rotate(-31.49 495.61 627.16)"/><ellipse cx="358.27" cy="637.71" rx="3.23" ry="2.13" transform="rotate(-33.74 358.27 637.71)"/><ellipse cx="367.36" cy="634.8" rx="2.59" ry="2.19" transform="rotate(-20.04 367.36 634.8)"/><ellipse cx="372.97" cy="635.68" rx="3.17" ry="2.08" transform="rotate(-35.14 372.97 635.68)"/><ellipse cx="378.93" cy="637.26" rx="3.45" ry="2.45" transform="rotate(-40.63 378.93 637.26)"/><ellipse cx="387.41" cy="634.23" rx="3.15" ry="2.37" transform="rotate(-24.73 387.41 634.23)"/><ellipse cx="395.07" cy="635.66" rx="3.55" ry="2.48" transform="rotate(-37.62 395.07 635.66)"/><ellipse cx="403.31" cy="635.05" rx="3.6" ry="1.93" transform="rotate(-33.61 403.31 635.05)"/><ellipse cx="407.69" cy="636.01" rx="3.57" ry="1.77" transform="rotate(-33.14 407.69 636.01)"/><ellipse cx="415.52" cy="634.52" rx="3.08" ry="1.87" transform="rotate(-36.99 415.52 634.52)"/><ellipse cx="424.18" cy="637.46" rx="3.31" ry="2.21" transform="rotate(-22.68 424.18 637.46)"/><ellipse cx="431.66" cy="636.63" rx="3.31" ry="2.47" transform="rotate(-18.19 431.66 636.63)"/><ellipse cx="436.85" cy="637.16" rx="3.35" ry="2.58" transform="rotate(-30.02 436.85 637.16)"/><ellipse cx="442.56" cy="634.4" rx="3.18" ry="2.11" transform="rotate(-15.92 442.56 634.4)"/><ellipse cx="449.52" cy="636.12" rx="3.12" ry="2.03" transform="rotate(-25.08 449.52 636.12)"/><ellipse cx="456.54" cy="635.74" rx="2.61" ry="1.73" transform="rotate(-33.41 456.54 635.74)"/><ellipse cx="466.56" cy="636.47" rx="2.39" ry="1.6" transform="rotate(-42.22 466.56 636.47)"/><ellipse cx="470.49" cy="634.49" rx="2.84" ry="2.36" transform="rotate(-43.54 470.49 634.49)"/><ellipse cx="476.53" cy="634.2" rx="3.09" ry="1.71" transform="rotate(-29.69 476.53 634.2)"/><ellipse cx="484.81" cy="636.85" rx="2.61" ry="2.05" transform="rotate(-23.64 484.81 636.85)"/><ellipse cx="494.65" cy="635.55" rx="2.78" ry="1.99" transform="rotate(-23.14 494.65 635.55)"/><ellipse cx="361.23" cy="643.24" rx="2.36" ry="1.95" transform="rotate(-23.95 361.23 643.24)"/><ellipse cx="372.74" cy="641.06" rx="3.37" ry="2.58" transform="rotate(-37.29 372.74 641.06)"/><ellipse cx="378.14" cy="644.99" rx="3.08" ry="1.91" transform="rotate(-23.94 378.14 644.99)"/><ellipse cx="383.62" cy="643.37" rx="3.38" ry="1.74" transform="rotate(-34.65 383.62 643.37)"/><ellipse cx="393.06" cy="643.66" rx="3.51" ry="1.95" transform="rotate(-26.04 393.06 643.66)"/><ellipse cx="396.86" cy="644.15" rx="3.35" ry="1.88" transform="rotate(-21.5 396.86 644.15)"/><ellipse cx="405.93" cy="643.64" rx="2.21" ry="1.94" transform="rotate(-39.99 405.93 643.64)"/><ellipse cx="412.99" cy="644.3" rx="2.68" ry="1.81" transform="rotate(-44.24 412.99 644.3)"/><ellipse cx="419.86" cy="644.69" rx="3.32" ry="1.77" transform="rotate(-27.8 419.86 644.69)"/><ellipse cx="424.55" cy="641.1" rx="2.98" ry="2.45" transform="rotate(-19.59 424.55 641.1)"/><ellipse cx="431.69" cy="643.03" rx="3.07" ry="1.77" transform="rotate(-22.17 431.69 643.03)"/><ellipse cx="441.59" cy="644.67" rx="2.34" ry="2.53" transform="rotate(-35.75 441.59 644.67)"/><ellipse cx="445.04" cy="641.03" rx="2.55" ry="1.82" transform="rotate(-33.12 445.04 641.03)"/><ellipse cx="453.91" cy="643.63" rx="3.31" ry="2.45" transform="rotate(-22.62 453.91 643.63)"/><ellipse cx="460.99" cy="642.12" rx="3.22" ry="1.84" transform="rotate(-35.36 460.99 642.12)"/><ellipse cx="467.01" cy="643.85" rx="2.63" ry="2.03" transform="rotate(-18.77 467.01 643.85)"/><ellipse cx="476.03" cy="644.81" rx="3.59" ry="1.68" transform="rotate(-16.06 476.03 644.81)"/><ellipse cx="481.64" cy="642.9" rx="3.49" ry="2.06" transform="rotate(-24.22 481.64 642.9)"/><ellipse cx="491.81" cy="643.8" rx="3.3" ry="1.79" transform="rotate(-26.52 491.81 643.8)"/><ellipse cx="495.31" cy="643.92" rx="3.57" ry="2.48" transform="rotate(-17.65 495.31 643.92)"/><ellipse cx="359.74" cy="648.36" rx="2.32" ry="2.31" transform="rotate(-30.4 359.74 648.36)"/><ellipse cx="365.03" cy="649.99" rx="3.47" ry="1.77" transform="rotate(-28.54 365.03 649.99)"/><ellipse cx="373.06" cy="649.04" rx="2.37" ry="2.4" transform="rotate(-23.32 373.06 649.04)"/><ellipse cx="382.12" cy="649.03" rx="2.24" ry="1.91" transform="rotate(-40.75 382.12 649.03)"/><ellipse cx="387.75" cy="650.03" rx="3.09" ry="2.23" transform="rotate(-43.12 387.75 650.03)"/><ellipse cx="392.54" cy="651.22" rx="3.53" ry="2.57" transform="rotate(-31.78 392.54 651.22)"/><ellipse cx="400.84" cy="648.65" rx="3" ry="1.96" transform="rotate(-26.81 400.84 648.65)"/><ellipse cx="409.07" cy="648.85" rx="2.76" ry="2.04" transform="rotate(-22.51 409.07 648.85)"/><ellipse cx="413.66" cy="648.45" rx="2.46" ry="1.9" transform="rotate(-22.09 413.66 648.45)"/><ellipse cx="420.7" cy="649.42" rx="2.51" ry="1.67" transform="rotate(-17.65 420.7 649.42)"/><ellipse cx="429.13" cy="648.84" rx="2.42" ry="2.01" transform="rotate(-35.6 429.13 648.84)"/><ellipse cx="435.37" cy="651.38" rx="2.57" ry="1.95" transform="rotate(-28.88 435.37 651.38)"/><ellipse cx="444.38" cy="650.43" rx="2.36" ry="2.13" transform="rotate(-43.47 444.38 650.43)"/><ellipse cx="448.55" cy="651.69" rx="2.31" ry="1.8" transform="rotate(-37.79 448.55 651.69)"/><ellipse cx="455.66" cy="651.06" rx="2.68" ry="1.89" transform="rotate(-19.89 455.66 651.06)"/><ellipse cx="465.77" cy="649.64" rx="3.12" ry="2.07" transform="rotate(-21.86 465.77 649.64)"/><ellipse cx="471.18" cy="650.16" rx="3.16" ry="1.92" transform="rotate(-26.52 471.18 650.16)"/><ellipse cx="479.41" cy="651.37" rx="3.24" ry="2.13" transform="rotate(-22.42 479.41 651.37)"/><ellipse cx="483.78" cy="648.36" rx="3.09" ry="2.53" transform="rotate(-37.08 483.78 648.36)"/><ellipse cx="493.62" cy="649.14" rx="3.14" ry="2.58" transform="rotate(-29.16 493.62 649.14)"/><ellipse cx="363.9" cy="656.53" rx="3.47" ry="1.69" transform="rotate(-23.29 363.9 656.53)"/><ellipse cx="368.17" cy="658.3" rx="2.57" ry="2.35" transform="rotate(-32.3 368.17 658.3)"/><ellipse cx="375.93" cy="656.33" rx="2.95" ry="1.85" transform="rotate(-37.29 375.93 656.33)"/><ellipse cx="385.72" cy="658.66" rx="3.41" ry="2.24" transform="rotate(-26.14 385.72 658.66)"/><ellipse cx="393.28" cy="658.72" rx="2.36" ry="1.89" transform="rotate(-15.96 393.28 658.72)"/><ellipse cx="397.6" cy="655.93" rx="2.48" ry="2.14" transform="rotate(-24.1 397.6 655.93)"/><ellipse cx="405.29" cy="658.31" rx="2.91" ry="2.15" transform="rotate(-15.89 405.29 658.31)"/><ellipse cx="413.25" cy="657.5" rx="3.29" ry="1.84" transform="rotate(-32.09 413.25 657.5)"/><ellipse cx="420.53" cy="655.86" rx="2.79" ry="2.28" transform="rotate(-24.75 420.53 655.86)"/><ellipse cx="426.83" cy="656.71" rx="2.57" ry="2.29" transform="rotate(-32.06 426.83 656.71)"/><ellipse cx="435.4" cy="656.24" rx="2.22" ry="1.89" transform="rotate(-33.69 435.4 656.24)"/><ellipse cx="440.72" cy="657.53" rx="2.48" ry="2.27" transform="rotate(-15.23 440.72 657.53)"/><ellipse cx="448.53" cy="658.15" rx="3.5" ry="2.23" transform="rotate(-19.28 448.53 658.15)"/><ellipse cx="455.74" cy="655.53" rx="2.89" ry="2.19" transform="rotate(-18.19 455.74 655.53)"/><ellipse cx="463.83" cy="655.15" rx="2.28" ry="1.96" transform="rotate(-33.78 463.83 655.15)"/><ellipse cx="469.66" cy="656.22" rx="2.68" ry="2.03" transform="rotate(-43.29 469.66 656.22)"/><ellipse cx="473.5" cy="656.45" rx="3.15" ry="2.56" transform="rotate(-37.97 473.5 656.45)"/><ellipse cx="480.57" cy="655.84" rx="2.46" ry="1.93" transform="rotate(-21.11 480.57 655.84)"/><ellipse cx="491.83" cy="658.25" rx="2.52" ry="2.37" transform="rotate(-39.82 491.83 658.25)"/><ellipse cx="495.85" cy="656.98" rx="3.03" ry="2.32" transform="rotate(-24.78 495.85 656.98)"/><ellipse cx="360.49" cy="663.27" rx="2.32" ry="2.56" transform="rotate(-19.56 360.49 663.27)"/><ellipse cx="365.17" cy="663.76" rx="2.87" ry="2.46" transform="rotate(-26.97 365.17 663.76)"/><ellipse cx="375.73" cy="665.84" rx="2.44" ry="2" transform="rotate(-20.38 375.73 665.84)"/><ellipse cx="381.54" cy="665.21" rx="2.85" ry="1.64" transform="rotate(-40.03 381.54 665.21)"/><ellipse cx="387.59" cy="665.14" rx="2.46" ry="2.19" transform="rotate(-25.69 387.59 665.14)"/><ellipse cx="396.55" cy="665.61" rx="2.83" ry="2" transform="rotate(-16.12 396.55 665.61)"/><ellipse cx="400.47" cy="664.1" rx="2.68" ry="2.27" transform="rotate(-38.86 400.47 664.1)"/><ellipse cx="406.87" cy="664.33" rx="2.92" ry="1.78" transform="rotate(-41.6 406.87 664.33)"/><ellipse cx="415.86" cy="664.36" rx="2.67" ry="1.72" transform="rotate(-33.56 415.86 664.36)"/><ellipse cx="423.16" cy="663.37" rx="3.11" ry="2.15" transform="rotate(-21.13 423.16 663.37)"/><ellipse cx="428.2" cy="663.28" rx="2.87" ry="1.68" transform="rotate(-23.18 428.2 663.28)"/><ellipse cx="438.4" cy="663.1" rx="2.76" ry="2.35" transform="rotate(-15.74 438.4 663.1)"/><ellipse cx="446.33" cy="665.36" rx="2.93" ry="1.85" transform="rotate(-34.27 446.33 665.36)"/><ellipse cx="449.82" cy="663.81" rx="2.9" ry="1.92" transform="rotate(-41.96 449.82 663.81)"/><ellipse cx="459.49" cy="662.04" rx="2.76" ry="2.26" transform="rotate(-20.52 459.49 662.04)"/><ellipse cx="466.35" cy="663.63" rx="3.27" ry="2.48" transform="rotate(-20.96 466.35 663.63)"/><ellipse cx="472.87" cy="662.04" rx="2.78" ry="2.24" transform="rotate(-43.38 472.87 662.04)"/><ellipse cx="479.75" cy="662.23" rx="3.31" ry="2.31" transform="rotate(-37.04 479.75 662.23)"/><ellipse cx="484.92" cy="664.46" rx="2.86" ry="1.87" transform="rotate(-21.15 484.92 664.46)"/><ellipse cx="493.67" cy="663.45" rx="2.8" ry="2.38" transform="rotate(-17.28 493.67 663.45)"/><ellipse cx="362.29" cy="670.46" rx="3.29" ry="1.98" transform="rotate(-34.73 362.29 670.46)"/><ellipse cx="369.51" cy="669.91" rx="3.52" ry="2.5" transform="rotate(-39.31 369.51 669.91)"/><ellipse cx="376.24" cy="670.99" rx="2.71" ry="2.39" transform="rotate(-22.31 376.24 670.99)"/><ellipse cx="385.76" cy="672.29" rx="2.6" ry="2.05" transform="rotate(-16.15 385.76 672.29)"/><ellipse cx="390.97" cy="672.78" rx="2.33" ry="1.87" transform="rotate(-25.07 390.97 672.78)"/><ellipse cx="397.73" cy="672.34" rx="3.47" ry="2.55" transform="rotate(-30.92 397.73 672.34)"/><ellipse cx="407.07" cy="672.01" rx="3.31" ry="2.57" transform="rotate(-35.12 407.07 672.01)"/><ellipse cx="414.55" cy="671.42" rx="2.52" ry="1.86" transform="rotate(-21.53 414.55 671.42)"/><ellipse cx="421.41" cy="670.09" rx="2.4" ry="2.15" transform="rotate(-17.11 421.41 670.09)"/><ellipse cx="426.53" cy="671.28" rx="2.48" ry="2.23" transform="rotate(-29.1 426.53 671.28)"/><ellipse cx="433.67" cy="669.24" rx="3.55" ry="2.11" transform="rotate(-30.27 433.67 669.24)"/><ellipse cx="439.29" cy="671.53" rx="3.46" ry="2.35" transform="rotate(-40.64 439.29 671.53)"/><ellipse cx="446.84" cy="671.81" rx="3.33" ry="2" transform="rotate(-15.94 446.84 671.81)"/><ellipse cx="455.67" cy="671.21" rx="3.55" ry="2.09" transform="rotate(-32.52 455.67 671.21)"/><ellipse cx="459.66" cy="670.79" rx="2.52" ry="1.88" transform="rotate(-38.82 459.66 670.79)"/><ellipse cx="470.61" cy="670.26" rx="2.44" ry="2.33" transform="rotate(-43.46 470.61 670.26)"/><ellipse cx="473.45" cy="672.07" rx="3.04" ry="2.2" transform="rotate(-22.93 473.45 672.07)"/><ellipse cx="481.84" cy="669.8" rx="2.99" ry="2.53" transform="rotate(-36.56 481.84 669.8)"/><ellipse cx="489.56" cy="672.66" rx="2.33" ry="2.18" transform="rotate(-36.92 489.56 672.66)"/><ellipse cx="496.81" cy="669.85" rx="3.58" ry="2.52" transform="rotate(-24.37 496.81 669.85)"/><ellipse cx="357.54" cy="677.69" rx="3.37" ry="1.84" transform="rotate(-30.45 357.54 677.69)"/><ellipse cx="365.82" cy="679.85" rx="2.74" ry="1.95" transform="rotate(-33.79 365.82 679.85)"/><ellipse cx="375.92" cy="679.91" rx="2.87" ry="2.25" transform="rotate(-44.24 375.92 679.91)"/><ellipse cx="383.07" cy="677.12" rx="2.96" ry="1.73" transform="rotate(-15.94 383.07 677.12)"/><ellipse cx="388.68" cy="678.21" rx="2.97" ry="2.19" transform="rotate(-35.55 388.68 678.21)"/><ellipse cx="395.16" cy="678.16" rx="3.19" ry="2.31" transform="rotate(-17.7 395.16 678.16)"/><ellipse cx="400.59" cy="676.62" rx="3.01" ry="1.87" transform="rotate(-26.14 400.59 676.62)"/><ellipse cx="406.78" cy="678.76" rx="2.27" ry="2.34" transform="rotate(-35.8 406.78 678.76)"/><ellipse cx="414.33" cy="679.46" rx="3.21" ry="1.73" transform="rotate(-27.07 414.33 679.46)"/><ellipse cx="423.74" cy="677.23" rx="2.44" ry="1.64" transform="rotate(-37.09 423.74 677.23)"/><ellipse cx="431.97" cy="676.37" rx="3.39" ry="1.99" transform="rotate(-29.32 431.97 676.37)"/><ellipse cx="435.51" cy="679.18" rx="3.31" ry="2.58" transform="rotate(-37.23 435.51 679.18)"/><ellipse cx="443.35" cy="679.63" rx="3.17" ry="2.38" transform="rotate(-21.18 443.35 679.63)"/><ellipse cx="450.96" cy="676" rx="2.69" ry="2.07" transform="rotate(-21.48 450.96 676)"/><ellipse cx="460.15" cy="679.95" rx="2.55" ry="2.09" transform="rotate(-25.99 460.15 679.95)"/><ellipse cx="464.76" cy="678.86" rx="3.39" ry="1.84" transform="rotate(-25.04 464.76 678.86)"/><ellipse cx="472.91" cy="676.41" rx="2.5" ry="1.76" transform="rotate(-30.69 472.91 676.41)"/><ellipse cx="480.28" cy="677.97" rx="3.11" ry="2.24" transform="rotate(-16.56 480.28 677.97)"/><ellipse cx="486.97" cy="676.02" rx="2.43" ry="2.13" transform="rotate(-30.6 486.97 676.02)"/><ellipse cx="492.54" cy="676.79" rx="2.56" ry="2.52" transform="rotate(-40.68 492.54 676.79)"/></g>
<g fill="#a4709c" opacity="0.3" filter="url(#bl2)"><ellipse cx="358" cy="566" rx="5.25" ry="1.27" transform="rotate(-46.14 358 566)"/><ellipse cx="358" cy="572" rx="5.88" ry="1.27" transform="rotate(-42.33 358 572)"/><ellipse cx="358" cy="578" rx="4.06" ry="1.13" transform="rotate(-41.7 358 578)"/><ellipse cx="358" cy="584" rx="5.3" ry="1.35" transform="rotate(-66.6 358 584)"/><ellipse cx="358" cy="590" rx="4.94" ry="1.02" transform="rotate(-53.69 358 590)"/><ellipse cx="358" cy="596" rx="5.15" ry="0.91" transform="rotate(-63.5 358 596)"/><ellipse cx="358" cy="602" rx="4.56" ry="1.36" transform="rotate(-47.03 358 602)"/><ellipse cx="358" cy="608" rx="4.32" ry="1.3" transform="rotate(-65.84 358 608)"/><ellipse cx="358" cy="614" rx="5.23" ry="0.96" transform="rotate(-69.95 358 614)"/><ellipse cx="358" cy="620" rx="5.74" ry="1" transform="rotate(-63.54 358 620)"/><ellipse cx="363" cy="566" rx="5.96" ry="1.34" transform="rotate(-61.32 363 566)"/><ellipse cx="363" cy="572" rx="5.92" ry="1.17" transform="rotate(-49.67 363 572)"/><ellipse cx="363" cy="578" rx="4.41" ry="1.37" transform="rotate(-49.28 363 578)"/><ellipse cx="363" cy="584" rx="5.93" ry="1.35" transform="rotate(-61.04 363 584)"/><ellipse cx="363" cy="590" rx="4.72" ry="0.98" transform="rotate(-65.63 363 590)"/><ellipse cx="363" cy="596" rx="4.13" ry="1.05" transform="rotate(-51.91 363 596)"/><ellipse cx="363" cy="602" rx="4.01" ry="1.24" transform="rotate(-59.86 363 602)"/><ellipse cx="363" cy="608" rx="4.62" ry="1.31" transform="rotate(-55.58 363 608)"/><ellipse cx="363" cy="614" rx="4.63" ry="1.14" transform="rotate(-48.86 363 614)"/><ellipse cx="363" cy="620" rx="4.11" ry="1.39" transform="rotate(-69.31 363 620)"/><ellipse cx="368" cy="566" rx="5.5" ry="1.32" transform="rotate(-69.46 368 566)"/><ellipse cx="368" cy="572" rx="5.58" ry="1.08" transform="rotate(-52.64 368 572)"/><ellipse cx="368" cy="578" rx="4.02" ry="0.92" transform="rotate(-64.57 368 578)"/><ellipse cx="368" cy="584" rx="5.91" ry="1" transform="rotate(-47.33 368 584)"/><ellipse cx="368" cy="590" rx="5.86" ry="1.37" transform="rotate(-59.67 368 590)"/><ellipse cx="368" cy="596" rx="4.71" ry="1.16" transform="rotate(-46.73 368 596)"/><ellipse cx="368" cy="602" rx="4.22" ry="1.27" transform="rotate(-46.08 368 602)"/><ellipse cx="368" cy="608" rx="5.72" ry="0.92" transform="rotate(-41.63 368 608)"/><ellipse cx="368" cy="614" rx="4.18" ry="1.07" transform="rotate(-51.68 368 614)"/><ellipse cx="373" cy="566" rx="5.84" ry="1.07" transform="rotate(-42.27 373 566)"/><ellipse cx="373" cy="572" rx="5.09" ry="1.06" transform="rotate(-60.5 373 572)"/><ellipse cx="373" cy="578" rx="4.35" ry="0.94" transform="rotate(-65.53 373 578)"/><ellipse cx="373" cy="584" rx="5.38" ry="1.4" transform="rotate(-65.15 373 584)"/><ellipse cx="373" cy="590" rx="4.1" ry="1.39" transform="rotate(-53.99 373 590)"/><ellipse cx="373" cy="596" rx="4.81" ry="1.02" transform="rotate(-52.18 373 596)"/><ellipse cx="373" cy="602" rx="5.65" ry="1.13" transform="rotate(-57.35 373 602)"/><ellipse cx="373" cy="608" rx="4.11" ry="1.36" transform="rotate(-69.02 373 608)"/><ellipse cx="378" cy="566" rx="4.99" ry="1.32" transform="rotate(-66.08 378 566)"/><ellipse cx="378" cy="572" rx="5.46" ry="1.37" transform="rotate(-51.09 378 572)"/><ellipse cx="378" cy="578" rx="5.58" ry="0.95" transform="rotate(-56.96 378 578)"/><ellipse cx="378" cy="584" rx="4.3" ry="1.32" transform="rotate(-61.16 378 584)"/><ellipse cx="378" cy="590" rx="4.91" ry="1.4" transform="rotate(-44.43 378 590)"/><ellipse cx="378" cy="596" rx="5.95" ry="1.13" transform="rotate(-55.36 378 596)"/><ellipse cx="383" cy="566" rx="5.46" ry="1.14" transform="rotate(-61.27 383 566)"/><ellipse cx="383" cy="572" rx="4.81" ry="0.97" transform="rotate(-58.69 383 572)"/><ellipse cx="383" cy="578" rx="5.98" ry="1.38" transform="rotate(-51.19 383 578)"/><ellipse cx="383" cy="584" rx="5" ry="1.07" transform="rotate(-67.33 383 584)"/><ellipse cx="383" cy="590" rx="4.54" ry="1.29" transform="rotate(-43.98 383 590)"/><ellipse cx="388" cy="566" rx="4.72" ry="1.29" transform="rotate(-46.75 388 566)"/><ellipse cx="388" cy="572" rx="5.39" ry="1.23" transform="rotate(-47.21 388 572)"/><ellipse cx="388" cy="578" rx="4.73" ry="1.25" transform="rotate(-61.57 388 578)"/><ellipse cx="388" cy="584" rx="4.97" ry="1.28" transform="rotate(-49.27 388 584)"/><ellipse cx="393" cy="566" rx="4.59" ry="1.37" transform="rotate(-50.51 393 566)"/><ellipse cx="393" cy="572" rx="5.16" ry="0.91" transform="rotate(-53.59 393 572)"/><ellipse cx="393" cy="578" rx="4.5" ry="1.24" transform="rotate(-56.11 393 578)"/><ellipse cx="398" cy="566" rx="5.63" ry="1.22" transform="rotate(-46.07 398 566)"/><ellipse cx="398" cy="572" rx="4.7" ry="1.22" transform="rotate(-47.87 398 572)"/><ellipse cx="403" cy="566" rx="5.66" ry="1.08" transform="rotate(-44.71 403 566)"/></g>
<rect x="356" y="562" width="142" height="245" filter="url(#tlt)" opacity="0.35"/>
<rect x="356" y="562" width="142" height="245" filter="url(#tvn)" opacity="0.4"/>
<rect x="356" y="562" width="142" height="245" filter="url(#tfg)" opacity="0.35"/>
<rect x="356" y="562" width="142" height="245" filter="url(#tfd)" opacity="0.25"/>
<path d="M480.5,564 L480.5,628 Q479,648 471,666 L465.5,684 L496,684 L496,564 z" fill="#c9cdd6" opacity="0.55"/>
<path d="M479.6,564 L479.6,630 Q478,648 470.5,665 L465,684" fill="none" stroke="#f0f0f4" stroke-width="1.3" opacity="0.85" filter="url(#bl2)"/>
<path d="M488,564 L488,620 Q486,640 478,660 L472,684" fill="none" stroke="#e8e8ee" stroke-width="1" opacity="0.5" filter="url(#bl2)"/>
<polygon points="403.5,564 402.4,566 396.4,577.5 389.6,588.2 381.6,597.6 376.2,604.4 371.5,611.1 366.8,617.8 360.7,623.2 357,625.5 357,638 362,634 368.1,627.3 376.2,617.8 385.6,608.4 394.4,597.6 401.8,588.2 409.8,577.5 415.2,566 417,564" fill="#b9dcbf" opacity="0.92" filter="url(#bl2)"/>
<path d="M358,675.5 L372,673 L385,670 L395,666 L400.2,662.5 L407.1,656.1 L414,651 L420.4,645.2 L428.4,640 L434.8,636 L441,630 L446.9,625 L452,618 L458.5,604.2 L460.5,608 L455,619 L448,626 L440,636 L437.5,640 L436,645.2 L433,655 L433,660 L437.1,667.1 L434.2,671.1 L431,668 L427.9,662.5 L419.8,659 L414,661 L405.4,667.7 L402,672 L401.5,684 L358,684 z" fill="#bfeccb"/>
<path d="M496,634 Q491,646 484.6,656 Q477,668 470.5,684 L496,684 z" fill="#c8f4da"/>
<path d="M402,669 L410,662 L418,659.5 L416,663 L408,667 L403,671 z" fill="#f4fcf8" opacity="0.85" filter="url(#bl1)"/>
</g>
<rect x="358.5" y="565" width="136.8" height="117.2" fill="none" stroke="#0a0a0a" stroke-width="1.9"/>
<g clip-path="url(#c2)">
<rect x="358" y="688" width="138" height="120" fill="#c2bcc8"/>
<polygon points="393,688 414,688 358,742 358,721" fill="#d2c4ca"/>
<rect x="356" y="562" width="142" height="245" filter="url(#tcy)" opacity="0.35"/>
<rect x="356" y="562" width="142" height="245" filter="url(#tcr)" opacity="0.5"/>
<rect x="356" y="562" width="142" height="245" filter="url(#tlt)" opacity="0.4"/>
<g fill="#7a6a92" opacity="0.52" filter="url(#bl2)"><ellipse cx="426.1" cy="700.3" rx="5.48" ry="4.16" transform="rotate(-48.9 426.1 700.3)"/><ellipse cx="438.7" cy="704.5" rx="6.21" ry="4.28" transform="rotate(-58.03 438.7 704.5)"/><ellipse cx="451.2" cy="697.5" rx="5.03" ry="4.57" transform="rotate(-52.22 451.2 697.5)"/><ellipse cx="463.8" cy="701.7" rx="5.47" ry="4.79" transform="rotate(-45.89 463.8 701.7)"/><ellipse cx="408" cy="710" rx="6.67" ry="4.07" transform="rotate(-40.83 408 710)"/><ellipse cx="420.5" cy="712.9" rx="5.3" ry="4.29" transform="rotate(-33.96 420.5 712.9)"/><ellipse cx="430.3" cy="715.7" rx="6.05" ry="4.44" transform="rotate(-39.86 430.3 715.7)"/><ellipse cx="441.4" cy="718.5" rx="5.13" ry="4.46" transform="rotate(-42.27 441.4 718.5)"/><ellipse cx="382.9" cy="732.4" rx="5.6" ry="3.44" transform="rotate(-34.03 382.9 732.4)"/><ellipse cx="377.3" cy="743.6" rx="5.95" ry="4.41" transform="rotate(-33.64 377.3 743.6)"/><ellipse cx="465.2" cy="715.7" rx="6.43" ry="4.69" transform="rotate(-48.15 465.2 715.7)"/><ellipse cx="472.1" cy="724" rx="6.6" ry="4.02" transform="rotate(-31.93 472.1 724)"/><ellipse cx="480.5" cy="712.9" rx="6.76" ry="3.54" transform="rotate(-55.92 480.5 712.9)"/><ellipse cx="486" cy="729.6" rx="5.43" ry="4.75" transform="rotate(-46.92 486 729.6)"/><ellipse cx="396" cy="722" rx="6.25" ry="3.82" transform="rotate(-44.78 396 722)"/><ellipse cx="414" cy="700" rx="5.77" ry="3.89" transform="rotate(-42.45 414 700)"/><ellipse cx="447" cy="749" rx="6.17" ry="4.67" transform="rotate(-39.54 447 749)"/><ellipse cx="455.4" cy="754.7" rx="6.86" ry="4.6" transform="rotate(-30.27 455.4 754.7)"/><ellipse cx="465.2" cy="752" rx="6.34" ry="3.63" transform="rotate(-34.18 465.2 752)"/><ellipse cx="474.9" cy="760.3" rx="6.93" ry="4.67" transform="rotate(-42.93 474.9 760.3)"/><ellipse cx="483.3" cy="749" rx="6.43" ry="3.7" transform="rotate(-35.05 483.3 749)"/><ellipse cx="447" cy="765.9" rx="6.15" ry="3.8" transform="rotate(-58.1 447 765.9)"/><ellipse cx="456.8" cy="768.7" rx="6.71" ry="4.79" transform="rotate(-57.34 456.8 768.7)"/><ellipse cx="466.5" cy="774.2" rx="6.6" ry="3.97" transform="rotate(-55.48 466.5 774.2)"/><ellipse cx="477.7" cy="777" rx="5.59" ry="4.48" transform="rotate(-33.82 477.7 777)"/><ellipse cx="486" cy="768.7" rx="5.09" ry="4.26" transform="rotate(-58.65 486 768.7)"/><ellipse cx="488.9" cy="782.6" rx="6.44" ry="3.86" transform="rotate(-33.57 488.9 782.6)"/><ellipse cx="363.4" cy="754.7" rx="6.96" ry="4.11" transform="rotate(-30.04 363.4 754.7)"/><ellipse cx="366.2" cy="763.1" rx="5.62" ry="3.51" transform="rotate(-42.01 366.2 763.1)"/><ellipse cx="424.7" cy="777" rx="5.06" ry="3.68" transform="rotate(-47.76 424.7 777)"/><ellipse cx="433.1" cy="782.6" rx="6.22" ry="3.62" transform="rotate(-58.73 433.1 782.6)"/><ellipse cx="438.7" cy="777" rx="6.74" ry="3.84" transform="rotate(-31.24 438.7 777)"/><ellipse cx="470" cy="790" rx="6.79" ry="3.93" transform="rotate(-46.19 470 790)"/><ellipse cx="455" cy="785" rx="6.04" ry="4.3" transform="rotate(-42.13 455 785)"/><ellipse cx="440" cy="795" rx="6.12" ry="4.27" transform="rotate(-31.78 440 795)"/><ellipse cx="425" cy="798" rx="6.01" ry="4" transform="rotate(-38.39 425 798)"/><ellipse cx="478" cy="738" rx="5.48" ry="3.82" transform="rotate(-30.67 478 738)"/><ellipse cx="490" cy="745" rx="6.04" ry="4.17" transform="rotate(-59.66 490 745)"/><ellipse cx="460" cy="738" rx="5.83" ry="4.21" transform="rotate(-59.4 460 738)"/><ellipse cx="395" cy="745" rx="6.23" ry="4.29" transform="rotate(-58.2 395 745)"/><ellipse cx="388" cy="700" rx="6.25" ry="4.05" transform="rotate(-39.62 388 700)"/></g>
<rect x="356" y="562" width="142" height="245" filter="url(#tvn2)" opacity="0.35"/>
<polygon points="366,765 385,745 410,735 440,730 452,728 440,745 405,764 380,782 366,790" fill="#cfd2cc" opacity="0.4" filter="url(#bl1)"/>
<polygon points="393,688 416,688 358,746 358,721" fill="#d6cacd" opacity="0.75" filter="url(#bl2)"/>
<polygon points="484,745 492,745 448,807 438,807" fill="#dcd4dc" opacity="0.7"/>
<polygon points="466,689 476,689 436,748 428,748" fill="#ccd0d0" opacity="0.55"/>
<polygon points="480,689 494,689 494,722 484,712" fill="#ccd2d4" opacity="0.55"/>
<polygon points="358,688 393,688 381.6,697.4 370.2,710.2 358,721" fill="#c8f2c8"/>
<path d="M358,796 L360.2,795.1 L377.2,781.3 L389.8,772.9 L400.4,765.5 L404.7,759.1 L417.3,756 L427.9,747.5 L440.6,739 L449.1,732.7 L458,728 L466,724 L462,730 L455.4,736.9 L451.2,743.3 L440.6,751.7 L427.9,759.1 L415.2,765.5 L404.7,772.9 L392,781.3 L379.3,791.9 L364.5,804.6 L358,807 z" fill="#c6e6ca"/>
<polygon points="484,788 496,780 496,807 480,807" fill="#d8eedf" opacity="0.8"/>
</g>
<rect x="358.5" y="688.5" width="136.8" height="118" fill="none" stroke="#0a0a0a" stroke-width="1.9"/>
<text x="365.3" y="581.3" font-size="12.4" font-weight="bold" font-style="italic">Cd73</text>
<text x="394.6" y="576.6" font-size="8.8" font-weight="bold" font-style="italic" letter-spacing="1.1">+/+</text>
<text x="412.3" y="581.3" font-size="13" font-weight="bold">recipient</text>
<text x="395.2" y="797.2" font-size="12.4" font-weight="bold" font-style="italic">Cd73</text>
<text x="424.4" y="792.4" font-size="8.8" font-weight="bold" font-style="italic" letter-spacing="1.1">-/-</text>
<text x="438.8" y="797.2" font-size="12.8" font-weight="bold">recipient</text>
<path d="M478.2,604.8 l-8.97,1.61 l1.84,1.84 l-2.53,2.53 l1.38,1.38 l2.53,-2.53 l1.84,1.84 z" fill="#000"/>
<path d="M461.8,652.2 l-8.97,1.61 l1.84,1.84 l-2.53,2.53 l1.38,1.38 l2.53,-2.53 l1.84,1.84 z" fill="#000"/>
<path d="M396.1,733.1 l-4.2,-6 l8.4,-0.4 z" fill="#000"/>
<path d="M420.3,732.7 l-4.2,-6 l8.4,-0.4 z" fill="#000"/>
<path d="M458.6,707 l-4.2,-6 l8.4,-0.4 z" fill="#000"/>
<path d="M420,770 l-4.2,-6 l8.4,-0.4 z" fill="#000"/>
<path d="M368,779 l-4.2,-6 l8.4,-0.4 z" fill="#000"/>
</svg>
</body></html>
